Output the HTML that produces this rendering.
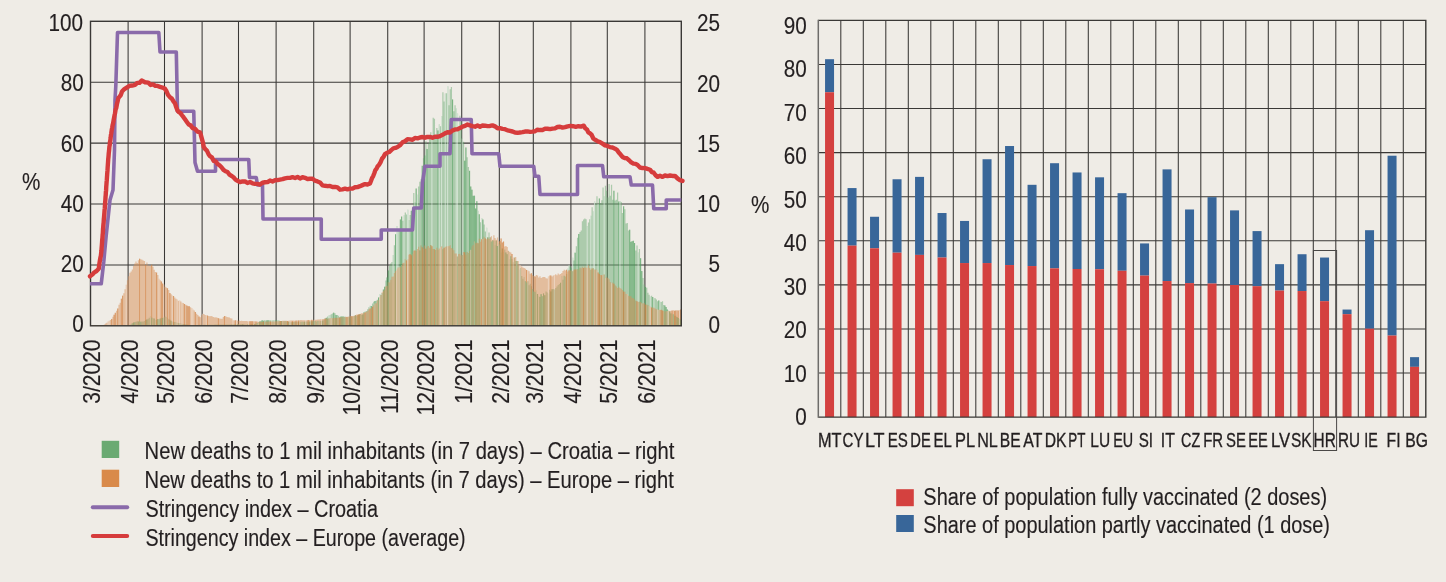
<!DOCTYPE html>
<html><head><meta charset="utf-8"><style>html,body{margin:0;padding:0;background:#efece6;overflow:hidden}svg{display:block;will-change:transform}</style></head>
<body><svg width="1446" height="582" viewBox="0 0 1446 582" font-family="'Liberation Sans', sans-serif">
<rect x="0" y="0" width="1446" height="582" fill="#efece6"/>
<line x1="90.5" y1="82.20" x2="681.3" y2="82.20" stroke="#3a3836" stroke-width="1.05"/>
<line x1="90.5" y1="143.10" x2="681.3" y2="143.10" stroke="#3a3836" stroke-width="1.05"/>
<line x1="90.5" y1="204.00" x2="681.3" y2="204.00" stroke="#3a3836" stroke-width="1.05"/>
<line x1="90.5" y1="264.90" x2="681.3" y2="264.90" stroke="#3a3836" stroke-width="1.05"/>
<line x1="128.11" y1="21.3" x2="128.11" y2="325.8" stroke="#3a3836" stroke-width="1.05"/>
<line x1="164.50" y1="21.3" x2="164.50" y2="325.8" stroke="#3a3836" stroke-width="1.05"/>
<line x1="202.11" y1="21.3" x2="202.11" y2="325.8" stroke="#3a3836" stroke-width="1.05"/>
<line x1="238.50" y1="21.3" x2="238.50" y2="325.8" stroke="#3a3836" stroke-width="1.05"/>
<line x1="276.11" y1="21.3" x2="276.11" y2="325.8" stroke="#3a3836" stroke-width="1.05"/>
<line x1="313.72" y1="21.3" x2="313.72" y2="325.8" stroke="#3a3836" stroke-width="1.05"/>
<line x1="350.11" y1="21.3" x2="350.11" y2="325.8" stroke="#3a3836" stroke-width="1.05"/>
<line x1="387.72" y1="21.3" x2="387.72" y2="325.8" stroke="#3a3836" stroke-width="1.05"/>
<line x1="424.11" y1="21.3" x2="424.11" y2="325.8" stroke="#3a3836" stroke-width="1.05"/>
<line x1="461.72" y1="21.3" x2="461.72" y2="325.8" stroke="#3a3836" stroke-width="1.05"/>
<line x1="499.33" y1="21.3" x2="499.33" y2="325.8" stroke="#3a3836" stroke-width="1.05"/>
<line x1="533.30" y1="21.3" x2="533.30" y2="325.8" stroke="#3a3836" stroke-width="1.05"/>
<line x1="570.90" y1="21.3" x2="570.90" y2="325.8" stroke="#3a3836" stroke-width="1.05"/>
<line x1="607.30" y1="21.3" x2="607.30" y2="325.8" stroke="#3a3836" stroke-width="1.05"/>
<line x1="644.91" y1="21.3" x2="644.91" y2="325.8" stroke="#3a3836" stroke-width="1.05"/>
<polygon points="90.50,325.80 90.50,325.00 91.71,325.00 91.71,325.00 92.93,325.00 92.93,325.00 94.14,325.00 94.14,325.00 95.35,325.00 95.35,325.00 96.57,325.00 96.57,325.00 97.78,325.00 97.78,325.00 98.99,325.00 98.99,325.00 100.21,325.00 100.21,325.00 101.42,325.00 101.42,325.00 102.63,325.00 102.63,325.00 103.84,325.00 103.84,325.00 105.06,325.00 105.06,325.00 106.27,325.00 106.27,325.00 107.48,325.00 107.48,325.00 108.70,325.00 108.70,325.00 109.91,325.00 109.91,325.00 111.12,325.00 111.12,325.00 112.34,325.00 112.34,325.00 113.55,325.00 113.55,325.00 114.76,325.00 114.76,325.00 115.98,325.00 115.98,325.00 117.19,325.00 117.19,325.00 118.40,325.00 118.40,325.00 119.62,325.00 119.62,325.00 120.83,325.00 120.83,325.00 122.04,325.00 122.04,325.00 123.25,325.00 123.25,325.00 124.47,325.00 124.47,325.00 125.68,325.00 125.68,325.00 126.89,325.00 126.89,325.00 128.11,325.00 128.11,325.00 129.32,325.00 129.32,325.00 130.53,325.00 130.53,324.08 131.75,324.08 131.75,323.24 132.96,323.24 132.96,322.51 134.17,322.51 134.17,322.29 135.39,322.29 135.39,321.81 136.60,321.81 136.60,321.31 137.81,321.31 137.81,321.48 139.03,321.48 139.03,321.50 140.24,321.50 140.24,321.72 141.45,321.72 141.45,321.62 142.67,321.62 142.67,321.50 143.88,321.50 143.88,321.04 145.09,321.04 145.09,320.04 146.30,320.04 146.30,319.44 147.52,319.44 147.52,318.84 148.73,318.84 148.73,317.77 149.94,317.77 149.94,316.28 151.16,316.28 151.16,317.75 152.37,317.75 152.37,318.23 153.58,318.23 153.58,318.56 154.80,318.56 154.80,319.99 156.01,319.99 156.01,319.72 157.22,319.72 157.22,319.02 158.44,319.02 158.44,319.18 159.65,319.18 159.65,318.49 160.86,318.49 160.86,317.74 162.08,317.74 162.08,318.06 163.29,318.06 163.29,317.26 164.50,317.26 164.50,316.60 165.71,316.60 165.71,317.03 166.93,317.03 166.93,318.08 168.14,318.08 168.14,319.13 169.35,319.13 169.35,319.74 170.57,319.74 170.57,320.66 171.78,320.66 171.78,321.43 172.99,321.43 172.99,321.83 174.21,321.83 174.21,321.91 175.42,321.91 175.42,322.25 176.63,322.25 176.63,322.73 177.85,322.73 177.85,322.93 179.06,322.93 179.06,323.32 180.27,323.32 180.27,323.54 181.49,323.54 181.49,323.76 182.70,323.76 182.70,323.92 183.91,323.92 183.91,324.12 185.13,324.12 185.13,324.31 186.34,324.31 186.34,324.51 187.55,324.51 187.55,324.70 188.76,324.70 188.76,324.90 189.98,324.90 189.98,324.99 191.19,324.99 191.19,324.97 192.40,324.97 192.40,324.95 193.62,324.95 193.62,324.94 194.83,324.94 194.83,324.92 196.04,324.92 196.04,324.90 197.26,324.90 197.26,324.88 198.47,324.88 198.47,324.86 199.68,324.86 199.68,324.84 200.90,324.84 200.90,324.82 202.11,324.82 202.11,324.80 203.32,324.80 203.32,324.79 204.54,324.79 204.54,324.77 205.75,324.77 205.75,324.75 206.96,324.75 206.96,324.73 208.17,324.73 208.17,324.71 209.39,324.71 209.39,324.69 210.60,324.69 210.60,324.67 211.81,324.67 211.81,324.66 213.03,324.66 213.03,324.64 214.24,324.64 214.24,324.62 215.45,324.62 215.45,324.60 216.67,324.60 216.67,324.58 217.88,324.58 217.88,324.56 219.09,324.56 219.09,324.54 220.31,324.54 220.31,324.52 221.52,324.52 221.52,324.51 222.73,324.51 222.73,324.49 223.95,324.49 223.95,324.47 225.16,324.47 225.16,324.45 226.37,324.45 226.37,324.43 227.59,324.43 227.59,324.41 228.80,324.41 228.80,324.39 230.01,324.39 230.01,324.38 231.22,324.38 231.22,324.36 232.44,324.36 232.44,324.34 233.65,324.34 233.65,324.32 234.86,324.32 234.86,324.30 236.08,324.30 236.08,324.28 237.29,324.28 237.29,324.26 238.50,324.26 238.50,324.24 239.72,324.24 239.72,324.23 240.93,324.23 240.93,324.21 242.14,324.21 242.14,324.19 243.36,324.19 243.36,324.17 244.57,324.17 244.57,324.15 245.78,324.15 245.78,324.13 247.00,324.13 247.00,324.11 248.21,324.11 248.21,324.10 249.42,324.10 249.42,324.08 250.63,324.08 250.63,324.06 251.85,324.06 251.85,324.04 253.06,324.04 253.06,324.02 254.27,324.02 254.27,324.00 255.49,324.00 255.49,323.41 256.70,323.41 256.70,322.89 257.91,322.89 257.91,322.26 259.13,322.26 259.13,321.52 260.34,321.52 260.34,321.08 261.55,321.08 261.55,320.24 262.77,320.24 262.77,320.65 263.98,320.65 263.98,320.24 265.19,320.24 265.19,320.40 266.41,320.40 266.41,320.36 267.62,320.36 267.62,320.17 268.83,320.17 268.83,320.20 270.04,320.20 270.04,320.22 271.26,320.22 271.26,320.46 272.47,320.46 272.47,320.35 273.68,320.35 273.68,319.88 274.90,319.88 274.90,320.05 276.11,320.05 276.11,320.10 277.32,320.10 277.32,320.10 278.54,320.10 278.54,320.44 279.75,320.44 279.75,320.99 280.96,320.99 280.96,320.99 282.18,320.99 282.18,320.98 283.39,320.98 283.39,321.35 284.60,321.35 284.60,321.11 285.82,321.11 285.82,321.29 287.03,321.29 287.03,321.51 288.24,321.51 288.24,321.86 289.46,321.86 289.46,321.84 290.67,321.84 290.67,322.14 291.88,322.14 291.88,322.03 293.09,322.03 293.09,321.92 294.31,321.92 294.31,321.76 295.52,321.76 295.52,321.85 296.73,321.85 296.73,321.99 297.95,321.99 297.95,321.86 299.16,321.86 299.16,321.84 300.37,321.84 300.37,321.82 301.59,321.82 301.59,321.86 302.80,321.86 302.80,321.71 304.01,321.71 304.01,321.66 305.23,321.66 305.23,321.47 306.44,321.47 306.44,321.42 307.65,321.42 307.65,321.53 308.87,321.53 308.87,321.53 310.08,321.53 310.08,321.33 311.29,321.33 311.29,321.22 312.50,321.22 312.50,321.28 313.72,321.28 313.72,321.17 314.93,321.17 314.93,321.04 316.14,321.04 316.14,321.48 317.36,321.48 317.36,320.97 318.57,320.97 318.57,321.26 319.78,321.26 319.78,321.10 321.00,321.10 321.00,320.87 322.21,320.87 322.21,320.58 323.42,320.58 323.42,319.87 324.64,319.87 324.64,318.37 325.85,318.37 325.85,317.84 327.06,317.84 327.06,316.46 328.28,316.46 328.28,315.17 329.49,315.17 329.49,315.05 330.70,315.05 330.70,314.21 331.92,314.21 331.92,313.41 333.13,313.41 333.13,312.64 334.34,312.64 334.34,313.17 335.55,313.17 335.55,314.94 336.77,314.94 336.77,315.07 337.98,315.07 337.98,315.72 339.19,315.72 339.19,316.89 340.41,316.89 340.41,316.50 341.62,316.50 341.62,316.49 342.83,316.49 342.83,316.31 344.05,316.31 344.05,316.25 345.26,316.25 345.26,317.20 346.47,317.20 346.47,317.14 347.69,317.14 347.69,316.74 348.90,316.74 348.90,317.36 350.11,317.36 350.11,317.13 351.33,317.13 351.33,316.47 352.54,316.47 352.54,316.65 353.75,316.65 353.75,315.66 354.96,315.66 354.96,315.28 356.18,315.28 356.18,316.01 357.39,316.01 357.39,315.11 358.60,315.11 358.60,314.49 359.82,314.49 359.82,313.96 361.03,313.96 361.03,314.63 362.24,314.63 362.24,314.50 363.46,314.50 363.46,312.29 364.67,312.29 364.67,310.90 365.88,310.90 365.88,310.88 367.10,310.88 367.10,309.16 368.31,309.16 368.31,307.29 369.52,307.29 369.52,305.68 370.74,305.68 370.74,306.02 371.95,306.02 371.95,303.49 373.16,303.49 373.16,301.79 374.38,301.79 374.38,301.04 375.59,301.04 375.59,300.74 376.80,300.74 376.80,299.74 378.01,299.74 378.01,297.46 379.23,297.46 379.23,294.07 380.44,294.07 380.44,294.95 381.65,294.95 381.65,293.10 382.87,293.10 382.87,289.53 384.08,289.53 384.08,286.72 385.29,286.72 385.29,280.49 386.51,280.49 386.51,277.43 387.72,277.43 387.72,270.50 388.93,270.50 388.93,265.45 390.15,265.45 390.15,263.56 391.36,263.56 391.36,262.11 392.57,262.11 392.57,254.89 393.79,254.89 393.79,245.28 395.00,245.28 395.00,234.27 396.21,234.27 396.21,226.02 397.42,226.02 397.42,229.86 398.64,229.86 398.64,231.08 399.85,231.08 399.85,219.50 401.06,219.50 401.06,216.62 402.28,216.62 402.28,220.85 403.49,220.85 403.49,215.22 404.70,215.22 404.70,212.42 405.92,212.42 405.92,214.53 407.13,214.53 407.13,209.80 408.34,209.80 408.34,219.96 409.56,219.96 409.56,215.05 410.77,215.05 410.77,210.84 411.98,210.84 411.98,209.01 413.20,209.01 413.20,192.95 414.41,192.95 414.41,202.33 415.62,202.33 415.62,188.53 416.84,188.53 416.84,194.78 418.05,194.78 418.05,186.40 419.26,186.40 419.26,181.83 420.47,181.83 420.47,179.34 421.69,179.34 421.69,165.83 422.90,165.83 422.90,158.26 424.11,158.26 424.11,155.50 425.33,155.50 425.33,141.16 426.54,141.16 426.54,148.93 427.75,148.93 427.75,143.54 428.97,143.54 428.97,135.10 430.18,135.10 430.18,132.28 431.39,132.28 431.39,135.45 432.61,135.45 432.61,117.63 433.82,117.63 433.82,118.84 435.03,118.84 435.03,135.21 436.25,135.21 436.25,128.01 437.46,128.01 437.46,130.43 438.67,130.43 438.67,124.23 439.88,124.23 439.88,126.24 441.10,126.24 441.10,116.32 442.31,116.32 442.31,92.13 443.52,92.13 443.52,101.58 444.74,101.58 444.74,93.53 445.95,93.53 445.95,93.25 447.16,93.25 447.16,86.24 448.38,86.24 448.38,105.18 449.59,105.18 449.59,89.26 450.80,89.26 450.80,86.96 452.02,86.96 452.02,99.41 453.23,99.41 453.23,111.37 454.44,111.37 454.44,105.17 455.66,105.17 455.66,108.13 456.87,108.13 456.87,113.51 458.08,113.51 458.08,130.88 459.30,130.88 459.30,115.82 460.51,115.82 460.51,121.37 461.72,121.37 461.72,138.52 462.93,138.52 462.93,141.70 464.15,141.70 464.15,160.68 465.36,160.68 465.36,147.46 466.57,147.46 466.57,157.19 467.79,157.19 467.79,166.91 469.00,166.91 469.00,170.83 470.21,170.83 470.21,186.52 471.43,186.52 471.43,189.66 472.64,189.66 472.64,195.86 473.85,195.86 473.85,195.64 475.07,195.64 475.07,208.50 476.28,208.50 476.28,201.13 477.49,201.13 477.49,210.70 478.71,210.70 478.71,214.32 479.92,214.32 479.92,222.13 481.13,222.13 481.13,218.03 482.34,218.03 482.34,219.54 483.56,219.54 483.56,224.39 484.77,224.39 484.77,231.46 485.98,231.46 485.98,227.71 487.20,227.71 487.20,237.39 488.41,237.39 488.41,232.44 489.62,232.44 489.62,237.37 490.84,237.37 490.84,241.57 492.05,241.57 492.05,240.41 493.26,240.41 493.26,240.41 494.48,240.41 494.48,245.28 495.69,245.28 495.69,240.64 496.90,240.64 496.90,245.97 498.12,245.97 498.12,242.63 499.33,242.63 499.33,244.39 500.54,244.39 500.54,252.41 501.76,252.41 501.76,248.53 502.97,248.53 502.97,252.56 504.18,252.56 504.18,249.58 505.39,249.58 505.39,252.43 506.61,252.43 506.61,254.14 507.82,254.14 507.82,251.37 509.03,251.37 509.03,259.44 510.25,259.44 510.25,256.21 511.46,256.21 511.46,259.06 512.67,259.06 512.67,262.37 513.89,262.37 513.89,257.58 515.10,257.58 515.10,260.94 516.31,260.94 516.31,260.91 517.53,260.91 517.53,265.56 518.74,265.56 518.74,269.81 519.95,269.81 519.95,267.93 521.17,267.93 521.17,275.95 522.38,275.95 522.38,278.65 523.59,278.65 523.59,277.07 524.80,277.07 524.80,281.15 526.02,281.15 526.02,282.49 527.23,282.49 527.23,281.14 528.44,281.14 528.44,285.25 529.66,285.25 529.66,283.83 530.87,283.83 530.87,286.35 532.08,286.35 532.08,289.10 533.30,289.10 533.30,291.56 534.51,291.56 534.51,292.03 535.72,292.03 535.72,290.39 536.94,290.39 536.94,293.95 538.15,293.95 538.15,296.16 539.36,296.16 539.36,296.93 540.58,296.93 540.58,294.21 541.79,294.21 541.79,296.29 543.00,296.29 543.00,293.40 544.21,293.40 544.21,295.24 545.43,295.24 545.43,291.43 546.64,291.43 546.64,292.51 547.85,292.51 547.85,293.87 549.07,293.87 549.07,289.63 550.28,289.63 550.28,291.40 551.49,291.40 551.49,289.21 552.71,289.21 552.71,288.92 553.92,288.92 553.92,289.44 555.13,289.44 555.13,287.99 556.35,287.99 556.35,286.39 557.56,286.39 557.56,284.93 558.77,284.93 558.77,284.11 559.99,284.11 559.99,282.76 561.20,282.76 561.20,276.31 562.41,276.31 562.41,279.75 563.63,279.75 563.63,275.87 564.84,275.87 564.84,276.62 566.05,276.62 566.05,274.07 567.26,274.07 567.26,268.46 568.48,268.46 568.48,265.16 569.69,265.16 569.69,266.39 570.90,266.39 570.90,267.81 572.12,267.81 572.12,257.74 573.33,257.74 573.33,260.38 574.54,260.38 574.54,252.64 575.76,252.64 575.76,246.33 576.97,246.33 576.97,237.78 578.18,237.78 578.18,233.94 579.40,233.94 579.40,232.11 580.61,232.11 580.61,230.46 581.82,230.46 581.82,221.20 583.04,221.20 583.04,219.54 584.25,219.54 584.25,218.45 585.46,218.45 585.46,219.32 586.67,219.32 586.67,226.07 587.89,226.07 587.89,222.56 589.10,222.56 589.10,219.17 590.31,219.17 590.31,215.69 591.53,215.69 591.53,207.26 592.74,207.26 592.74,211.58 593.95,211.58 593.95,201.52 595.17,201.52 595.17,203.60 596.38,203.60 596.38,196.37 597.59,196.37 597.59,203.92 598.81,203.92 598.81,198.45 600.02,198.45 600.02,203.01 601.23,203.01 601.23,200.16 602.45,200.16 602.45,187.59 603.66,187.59 603.66,196.20 604.87,196.20 604.87,185.86 606.09,185.86 606.09,190.65 607.30,190.65 607.30,197.44 608.51,197.44 608.51,184.00 609.72,184.00 609.72,195.85 610.94,195.85 610.94,184.84 612.15,184.84 612.15,199.76 613.36,199.76 613.36,190.80 614.58,190.80 614.58,200.54 615.79,200.54 615.79,199.75 617.00,199.75 617.00,192.48 618.22,192.48 618.22,201.58 619.43,201.58 619.43,201.08 620.64,201.08 620.64,201.94 621.86,201.94 621.86,212.98 623.07,212.98 623.07,206.36 624.28,206.36 624.28,209.15 625.50,209.15 625.50,223.46 626.71,223.46 626.71,222.92 627.92,222.92 627.92,230.48 629.13,230.48 629.13,229.69 630.35,229.69 630.35,241.87 631.56,241.87 631.56,241.15 632.77,241.15 632.77,240.79 633.99,240.79 633.99,243.02 635.20,243.02 635.20,250.62 636.41,250.62 636.41,245.44 637.63,245.44 637.63,252.52 638.84,252.52 638.84,249.03 640.05,249.03 640.05,258.24 641.27,258.24 641.27,271.05 642.48,271.05 642.48,277.94 643.69,277.94 643.69,284.40 644.91,284.40 644.91,286.91 646.12,286.91 646.12,287.75 647.33,287.75 647.33,292.70 648.55,292.70 648.55,294.66 649.76,294.66 649.76,296.51 650.97,296.51 650.97,295.81 652.18,295.81 652.18,297.03 653.40,297.03 653.40,297.89 654.61,297.89 654.61,298.26 655.82,298.26 655.82,299.59 657.04,299.59 657.04,301.15 658.25,301.15 658.25,300.40 659.46,300.40 659.46,301.71 660.68,301.71 660.68,301.91 661.89,301.91 661.89,301.30 663.10,301.30 663.10,304.95 664.32,304.95 664.32,305.40 665.53,305.40 665.53,307.03 666.74,307.03 666.74,309.41 667.96,309.41 667.96,310.64 669.17,310.64 669.17,311.43 670.38,311.43 670.38,313.40 671.59,313.40 671.59,313.67 672.81,313.67 672.81,314.33 674.02,314.33 674.02,315.76 675.23,315.76 675.23,315.84 676.45,315.84 676.45,317.07 677.66,317.07 677.66,318.01 678.87,318.01 678.87,318.64 680.09,318.64 680.09,319.69 681.30,319.69 681.30,325.80" fill="#6aaa72" fill-opacity="0.5"/>
<g><rect x="130.53" y="324.08" width="1" height="1.72" fill="#ffffff" fill-opacity="0.5"/><rect x="132.96" y="322.51" width="1" height="3.29" fill="#3f9a50" fill-opacity="0.45"/><rect x="137.81" y="321.48" width="1" height="4.32" fill="#3f9a50" fill-opacity="0.45"/><rect x="139.03" y="321.50" width="1" height="4.30" fill="#ffffff" fill-opacity="0.5"/><rect x="146.30" y="319.44" width="1" height="6.36" fill="#3f9a50" fill-opacity="0.45"/><rect x="149.94" y="316.28" width="1" height="9.52" fill="#ffffff" fill-opacity="0.5"/><rect x="152.37" y="318.23" width="1" height="7.57" fill="#ffffff" fill-opacity="0.5"/><rect x="153.58" y="318.56" width="1" height="7.24" fill="#3f9a50" fill-opacity="0.45"/><rect x="154.80" y="319.99" width="1" height="5.81" fill="#ffffff" fill-opacity="0.5"/><rect x="157.22" y="319.02" width="1" height="6.78" fill="#3f9a50" fill-opacity="0.45"/><rect x="159.65" y="318.49" width="1" height="7.31" fill="#3f9a50" fill-opacity="0.45"/><rect x="162.08" y="318.06" width="1" height="7.74" fill="#3f9a50" fill-opacity="0.45"/><rect x="165.71" y="317.03" width="1" height="8.77" fill="#ffffff" fill-opacity="0.5"/><rect x="166.93" y="318.08" width="1" height="7.72" fill="#ffffff" fill-opacity="0.5"/><rect x="170.57" y="320.66" width="1" height="5.14" fill="#3f9a50" fill-opacity="0.45"/><rect x="175.42" y="322.25" width="1" height="3.55" fill="#ffffff" fill-opacity="0.5"/><rect x="179.06" y="323.32" width="1" height="2.48" fill="#3f9a50" fill-opacity="0.45"/><rect x="180.27" y="323.54" width="1" height="2.26" fill="#ffffff" fill-opacity="0.5"/><rect x="237.29" y="324.26" width="1" height="1.54" fill="#3f9a50" fill-opacity="0.45"/><rect x="238.50" y="324.24" width="1" height="1.56" fill="#ffffff" fill-opacity="0.5"/><rect x="242.14" y="324.19" width="1" height="1.61" fill="#3f9a50" fill-opacity="0.45"/><rect x="244.57" y="324.15" width="1" height="1.65" fill="#ffffff" fill-opacity="0.5"/><rect x="245.78" y="324.13" width="1" height="1.67" fill="#ffffff" fill-opacity="0.5"/><rect x="248.21" y="324.10" width="1" height="1.70" fill="#ffffff" fill-opacity="0.5"/><rect x="249.42" y="324.08" width="1" height="1.72" fill="#ffffff" fill-opacity="0.5"/><rect x="253.06" y="324.02" width="1" height="1.78" fill="#ffffff" fill-opacity="0.5"/><rect x="254.27" y="324.00" width="1" height="1.80" fill="#3f9a50" fill-opacity="0.45"/><rect x="256.70" y="322.89" width="1" height="2.91" fill="#ffffff" fill-opacity="0.5"/><rect x="257.91" y="322.26" width="1" height="3.54" fill="#ffffff" fill-opacity="0.5"/><rect x="259.13" y="321.52" width="1" height="4.28" fill="#3f9a50" fill-opacity="0.45"/><rect x="261.55" y="320.24" width="1" height="5.56" fill="#3f9a50" fill-opacity="0.45"/><rect x="262.77" y="320.65" width="1" height="5.15" fill="#3f9a50" fill-opacity="0.45"/><rect x="266.41" y="320.36" width="1" height="5.44" fill="#3f9a50" fill-opacity="0.45"/><rect x="267.62" y="320.17" width="1" height="5.63" fill="#3f9a50" fill-opacity="0.45"/><rect x="271.26" y="320.46" width="1" height="5.34" fill="#ffffff" fill-opacity="0.5"/><rect x="273.68" y="319.88" width="1" height="5.92" fill="#ffffff" fill-opacity="0.5"/><rect x="277.32" y="320.10" width="1" height="5.70" fill="#ffffff" fill-opacity="0.5"/><rect x="280.96" y="320.99" width="1" height="4.81" fill="#3f9a50" fill-opacity="0.45"/><rect x="282.18" y="320.98" width="1" height="4.82" fill="#ffffff" fill-opacity="0.5"/><rect x="288.24" y="321.86" width="1" height="3.94" fill="#3f9a50" fill-opacity="0.45"/><rect x="289.46" y="321.84" width="1" height="3.96" fill="#ffffff" fill-opacity="0.5"/><rect x="291.88" y="322.03" width="1" height="3.77" fill="#3f9a50" fill-opacity="0.45"/><rect x="296.73" y="321.99" width="1" height="3.81" fill="#ffffff" fill-opacity="0.5"/><rect x="297.95" y="321.86" width="1" height="3.94" fill="#3f9a50" fill-opacity="0.45"/><rect x="299.16" y="321.84" width="1" height="3.96" fill="#ffffff" fill-opacity="0.5"/><rect x="301.59" y="321.86" width="1" height="3.94" fill="#ffffff" fill-opacity="0.5"/><rect x="304.01" y="321.66" width="1" height="4.14" fill="#3f9a50" fill-opacity="0.45"/><rect x="308.87" y="321.53" width="1" height="4.27" fill="#3f9a50" fill-opacity="0.45"/><rect x="310.08" y="321.33" width="1" height="4.47" fill="#3f9a50" fill-opacity="0.45"/><rect x="311.29" y="321.22" width="1" height="4.58" fill="#3f9a50" fill-opacity="0.45"/><rect x="312.50" y="321.28" width="1" height="4.52" fill="#3f9a50" fill-opacity="0.45"/><rect x="317.36" y="320.97" width="1" height="4.83" fill="#ffffff" fill-opacity="0.5"/><rect x="318.57" y="321.26" width="1" height="4.54" fill="#ffffff" fill-opacity="0.5"/><rect x="322.21" y="320.58" width="1" height="5.22" fill="#3f9a50" fill-opacity="0.45"/><rect x="325.85" y="317.84" width="1" height="7.96" fill="#3f9a50" fill-opacity="0.45"/><rect x="328.28" y="315.17" width="1" height="10.63" fill="#ffffff" fill-opacity="0.5"/><rect x="329.49" y="315.05" width="1" height="10.75" fill="#ffffff" fill-opacity="0.5"/><rect x="333.13" y="312.64" width="1" height="13.16" fill="#3f9a50" fill-opacity="0.45"/><rect x="335.55" y="314.94" width="1" height="10.86" fill="#3f9a50" fill-opacity="0.45"/><rect x="340.41" y="316.50" width="1" height="9.30" fill="#3f9a50" fill-opacity="0.45"/><rect x="341.62" y="316.49" width="1" height="9.31" fill="#3f9a50" fill-opacity="0.45"/><rect x="344.05" y="316.25" width="1" height="9.55" fill="#ffffff" fill-opacity="0.5"/><rect x="346.47" y="317.14" width="1" height="8.66" fill="#ffffff" fill-opacity="0.5"/><rect x="347.69" y="316.74" width="1" height="9.06" fill="#ffffff" fill-opacity="0.5"/><rect x="348.90" y="317.36" width="1" height="8.44" fill="#3f9a50" fill-opacity="0.45"/><rect x="352.54" y="316.65" width="1" height="9.15" fill="#ffffff" fill-opacity="0.5"/><rect x="354.96" y="315.28" width="1" height="10.52" fill="#3f9a50" fill-opacity="0.45"/><rect x="358.60" y="314.49" width="1" height="11.31" fill="#3f9a50" fill-opacity="0.45"/><rect x="362.24" y="314.50" width="1" height="11.30" fill="#3f9a50" fill-opacity="0.45"/><rect x="363.46" y="312.29" width="1" height="13.51" fill="#3f9a50" fill-opacity="0.45"/><rect x="364.67" y="310.90" width="1" height="14.90" fill="#ffffff" fill-opacity="0.5"/><rect x="369.52" y="305.68" width="1" height="20.12" fill="#ffffff" fill-opacity="0.5"/><rect x="370.74" y="306.02" width="1" height="19.78" fill="#3f9a50" fill-opacity="0.45"/><rect x="374.38" y="301.04" width="1" height="24.76" fill="#3f9a50" fill-opacity="0.45"/><rect x="378.01" y="297.46" width="1" height="28.34" fill="#3f9a50" fill-opacity="0.45"/><rect x="379.23" y="294.07" width="1" height="31.73" fill="#ffffff" fill-opacity="0.5"/><rect x="381.65" y="293.10" width="1" height="32.70" fill="#3f9a50" fill-opacity="0.45"/><rect x="382.87" y="289.53" width="1" height="36.27" fill="#3f9a50" fill-opacity="0.45"/><rect x="384.08" y="286.72" width="1" height="39.08" fill="#3f9a50" fill-opacity="0.45"/><rect x="386.51" y="277.43" width="1" height="48.37" fill="#3f9a50" fill-opacity="0.45"/><rect x="387.72" y="270.50" width="1" height="55.30" fill="#3f9a50" fill-opacity="0.45"/><rect x="392.57" y="254.89" width="1" height="70.91" fill="#ffffff" fill-opacity="0.5"/><rect x="395.00" y="234.27" width="1" height="91.53" fill="#3f9a50" fill-opacity="0.45"/><rect x="396.21" y="226.02" width="1" height="99.78" fill="#ffffff" fill-opacity="0.5"/><rect x="397.42" y="229.86" width="1" height="95.94" fill="#ffffff" fill-opacity="0.5"/><rect x="399.85" y="219.50" width="1" height="106.30" fill="#3f9a50" fill-opacity="0.45"/><rect x="401.06" y="216.62" width="1" height="109.18" fill="#3f9a50" fill-opacity="0.45"/><rect x="403.49" y="215.22" width="1" height="110.58" fill="#ffffff" fill-opacity="0.5"/><rect x="407.13" y="209.80" width="1" height="116.00" fill="#ffffff" fill-opacity="0.5"/><rect x="408.34" y="219.96" width="1" height="105.84" fill="#ffffff" fill-opacity="0.5"/><rect x="410.77" y="210.84" width="1" height="114.96" fill="#3f9a50" fill-opacity="0.45"/><rect x="411.98" y="209.01" width="1" height="116.79" fill="#3f9a50" fill-opacity="0.45"/><rect x="414.41" y="202.33" width="1" height="123.47" fill="#ffffff" fill-opacity="0.5"/><rect x="415.62" y="188.53" width="1" height="137.27" fill="#3f9a50" fill-opacity="0.45"/><rect x="416.84" y="194.78" width="1" height="131.02" fill="#ffffff" fill-opacity="0.5"/><rect x="421.69" y="165.83" width="1" height="159.97" fill="#3f9a50" fill-opacity="0.45"/><rect x="424.11" y="155.50" width="1" height="170.30" fill="#3f9a50" fill-opacity="0.45"/><rect x="426.54" y="148.93" width="1" height="176.87" fill="#3f9a50" fill-opacity="0.45"/><rect x="431.39" y="135.45" width="1" height="190.35" fill="#ffffff" fill-opacity="0.5"/><rect x="437.46" y="130.43" width="1" height="195.37" fill="#3f9a50" fill-opacity="0.45"/><rect x="438.67" y="124.23" width="1" height="201.57" fill="#ffffff" fill-opacity="0.5"/><rect x="441.10" y="116.32" width="1" height="209.48" fill="#ffffff" fill-opacity="0.5"/><rect x="444.74" y="93.53" width="1" height="232.27" fill="#ffffff" fill-opacity="0.5"/><rect x="447.16" y="86.24" width="1" height="239.56" fill="#ffffff" fill-opacity="0.5"/><rect x="452.02" y="99.41" width="1" height="226.39" fill="#3f9a50" fill-opacity="0.45"/><rect x="455.66" y="108.13" width="1" height="217.67" fill="#ffffff" fill-opacity="0.5"/><rect x="456.87" y="113.51" width="1" height="212.29" fill="#ffffff" fill-opacity="0.5"/><rect x="461.72" y="138.52" width="1" height="187.28" fill="#ffffff" fill-opacity="0.5"/><rect x="464.15" y="160.68" width="1" height="165.12" fill="#3f9a50" fill-opacity="0.45"/><rect x="465.36" y="147.46" width="1" height="178.34" fill="#3f9a50" fill-opacity="0.45"/><rect x="469.00" y="170.83" width="1" height="154.97" fill="#3f9a50" fill-opacity="0.45"/><rect x="470.21" y="186.52" width="1" height="139.28" fill="#3f9a50" fill-opacity="0.45"/><rect x="471.43" y="189.66" width="1" height="136.14" fill="#3f9a50" fill-opacity="0.45"/><rect x="472.64" y="195.86" width="1" height="129.94" fill="#3f9a50" fill-opacity="0.45"/><rect x="473.85" y="195.64" width="1" height="130.16" fill="#3f9a50" fill-opacity="0.45"/><rect x="475.07" y="208.50" width="1" height="117.30" fill="#3f9a50" fill-opacity="0.45"/><rect x="476.28" y="201.13" width="1" height="124.67" fill="#3f9a50" fill-opacity="0.45"/><rect x="477.49" y="210.70" width="1" height="115.10" fill="#ffffff" fill-opacity="0.5"/><rect x="478.71" y="214.32" width="1" height="111.48" fill="#3f9a50" fill-opacity="0.45"/><rect x="481.13" y="218.03" width="1" height="107.77" fill="#ffffff" fill-opacity="0.5"/><rect x="482.34" y="219.54" width="1" height="106.26" fill="#3f9a50" fill-opacity="0.45"/><rect x="485.98" y="227.71" width="1" height="98.09" fill="#ffffff" fill-opacity="0.5"/><rect x="487.20" y="237.39" width="1" height="88.41" fill="#3f9a50" fill-opacity="0.45"/><rect x="494.48" y="245.28" width="1" height="80.52" fill="#ffffff" fill-opacity="0.5"/><rect x="495.69" y="240.64" width="1" height="85.16" fill="#3f9a50" fill-opacity="0.45"/><rect x="496.90" y="245.97" width="1" height="79.83" fill="#3f9a50" fill-opacity="0.45"/><rect x="500.54" y="252.41" width="1" height="73.39" fill="#ffffff" fill-opacity="0.5"/><rect x="501.76" y="248.53" width="1" height="77.27" fill="#3f9a50" fill-opacity="0.45"/><rect x="502.97" y="252.56" width="1" height="73.24" fill="#ffffff" fill-opacity="0.5"/><rect x="505.39" y="252.43" width="1" height="73.37" fill="#3f9a50" fill-opacity="0.45"/><rect x="506.61" y="254.14" width="1" height="71.66" fill="#3f9a50" fill-opacity="0.45"/><rect x="507.82" y="251.37" width="1" height="74.43" fill="#ffffff" fill-opacity="0.5"/><rect x="509.03" y="259.44" width="1" height="66.36" fill="#ffffff" fill-opacity="0.5"/><rect x="516.31" y="260.91" width="1" height="64.89" fill="#3f9a50" fill-opacity="0.45"/><rect x="517.53" y="265.56" width="1" height="60.24" fill="#3f9a50" fill-opacity="0.45"/><rect x="518.74" y="269.81" width="1" height="55.99" fill="#ffffff" fill-opacity="0.5"/><rect x="519.95" y="267.93" width="1" height="57.87" fill="#3f9a50" fill-opacity="0.45"/><rect x="523.59" y="277.07" width="1" height="48.73" fill="#ffffff" fill-opacity="0.5"/><rect x="527.23" y="281.14" width="1" height="44.66" fill="#3f9a50" fill-opacity="0.45"/><rect x="534.51" y="292.03" width="1" height="33.77" fill="#ffffff" fill-opacity="0.5"/><rect x="535.72" y="290.39" width="1" height="35.41" fill="#ffffff" fill-opacity="0.5"/><rect x="536.94" y="293.95" width="1" height="31.85" fill="#3f9a50" fill-opacity="0.45"/><rect x="538.15" y="296.16" width="1" height="29.64" fill="#ffffff" fill-opacity="0.5"/><rect x="539.36" y="296.93" width="1" height="28.87" fill="#3f9a50" fill-opacity="0.45"/><rect x="540.58" y="294.21" width="1" height="31.59" fill="#3f9a50" fill-opacity="0.45"/><rect x="543.00" y="293.40" width="1" height="32.40" fill="#3f9a50" fill-opacity="0.45"/><rect x="544.21" y="295.24" width="1" height="30.56" fill="#3f9a50" fill-opacity="0.45"/><rect x="547.85" y="293.87" width="1" height="31.93" fill="#ffffff" fill-opacity="0.5"/><rect x="550.28" y="291.40" width="1" height="34.40" fill="#3f9a50" fill-opacity="0.45"/><rect x="551.49" y="289.21" width="1" height="36.59" fill="#3f9a50" fill-opacity="0.45"/><rect x="553.92" y="289.44" width="1" height="36.36" fill="#3f9a50" fill-opacity="0.45"/><rect x="559.99" y="282.76" width="1" height="43.04" fill="#3f9a50" fill-opacity="0.45"/><rect x="561.20" y="276.31" width="1" height="49.49" fill="#ffffff" fill-opacity="0.5"/><rect x="567.26" y="268.46" width="1" height="57.34" fill="#ffffff" fill-opacity="0.5"/><rect x="568.48" y="265.16" width="1" height="60.64" fill="#ffffff" fill-opacity="0.5"/><rect x="569.69" y="266.39" width="1" height="59.41" fill="#3f9a50" fill-opacity="0.45"/><rect x="572.12" y="257.74" width="1" height="68.06" fill="#ffffff" fill-opacity="0.5"/><rect x="574.54" y="252.64" width="1" height="73.16" fill="#3f9a50" fill-opacity="0.45"/><rect x="578.18" y="233.94" width="1" height="91.86" fill="#3f9a50" fill-opacity="0.45"/><rect x="586.67" y="226.07" width="1" height="99.73" fill="#ffffff" fill-opacity="0.5"/><rect x="590.31" y="215.69" width="1" height="110.11" fill="#ffffff" fill-opacity="0.5"/><rect x="592.74" y="211.58" width="1" height="114.22" fill="#ffffff" fill-opacity="0.5"/><rect x="593.95" y="201.52" width="1" height="124.28" fill="#ffffff" fill-opacity="0.5"/><rect x="597.59" y="203.92" width="1" height="121.88" fill="#ffffff" fill-opacity="0.5"/><rect x="598.81" y="198.45" width="1" height="127.35" fill="#3f9a50" fill-opacity="0.45"/><rect x="603.66" y="196.20" width="1" height="129.60" fill="#ffffff" fill-opacity="0.5"/><rect x="613.36" y="190.80" width="1" height="135.00" fill="#3f9a50" fill-opacity="0.45"/><rect x="618.22" y="201.58" width="1" height="124.22" fill="#3f9a50" fill-opacity="0.45"/><rect x="619.43" y="201.08" width="1" height="124.72" fill="#ffffff" fill-opacity="0.5"/><rect x="623.07" y="206.36" width="1" height="119.44" fill="#3f9a50" fill-opacity="0.45"/><rect x="629.13" y="229.69" width="1" height="96.11" fill="#3f9a50" fill-opacity="0.45"/><rect x="630.35" y="241.87" width="1" height="83.93" fill="#3f9a50" fill-opacity="0.45"/><rect x="631.56" y="241.15" width="1" height="84.65" fill="#3f9a50" fill-opacity="0.45"/><rect x="632.77" y="240.79" width="1" height="85.01" fill="#3f9a50" fill-opacity="0.45"/><rect x="633.99" y="243.02" width="1" height="82.78" fill="#3f9a50" fill-opacity="0.45"/><rect x="637.63" y="252.52" width="1" height="73.28" fill="#ffffff" fill-opacity="0.5"/><rect x="640.05" y="258.24" width="1" height="67.56" fill="#3f9a50" fill-opacity="0.45"/><rect x="641.27" y="271.05" width="1" height="54.75" fill="#3f9a50" fill-opacity="0.45"/><rect x="644.91" y="286.91" width="1" height="38.89" fill="#3f9a50" fill-opacity="0.45"/><rect x="649.76" y="296.51" width="1" height="29.29" fill="#ffffff" fill-opacity="0.5"/><rect x="652.18" y="297.03" width="1" height="28.77" fill="#3f9a50" fill-opacity="0.45"/><rect x="653.40" y="297.89" width="1" height="27.91" fill="#ffffff" fill-opacity="0.5"/><rect x="658.25" y="300.40" width="1" height="25.40" fill="#3f9a50" fill-opacity="0.45"/><rect x="659.46" y="301.71" width="1" height="24.09" fill="#ffffff" fill-opacity="0.5"/><rect x="664.32" y="305.40" width="1" height="20.40" fill="#3f9a50" fill-opacity="0.45"/><rect x="665.53" y="307.03" width="1" height="18.77" fill="#3f9a50" fill-opacity="0.45"/><rect x="666.74" y="309.41" width="1" height="16.39" fill="#3f9a50" fill-opacity="0.45"/><rect x="669.17" y="311.43" width="1" height="14.37" fill="#3f9a50" fill-opacity="0.45"/><rect x="670.38" y="313.40" width="1" height="12.40" fill="#3f9a50" fill-opacity="0.45"/><rect x="671.59" y="313.67" width="1" height="12.13" fill="#ffffff" fill-opacity="0.5"/><rect x="676.45" y="317.07" width="1" height="8.73" fill="#3f9a50" fill-opacity="0.45"/><rect x="677.66" y="318.01" width="1" height="7.79" fill="#3f9a50" fill-opacity="0.45"/><rect x="680.09" y="319.69" width="1" height="6.11" fill="#3f9a50" fill-opacity="0.45"/></g>
<polygon points="90.50,325.80 90.50,325.00 91.71,325.00 91.71,325.00 92.93,325.00 92.93,325.00 94.14,325.00 94.14,325.00 95.35,325.00 95.35,325.00 96.57,325.00 96.57,325.00 97.78,325.00 97.78,325.00 98.99,325.00 98.99,325.00 100.21,325.00 100.21,325.00 101.42,325.00 101.42,325.00 102.63,325.00 102.63,325.00 103.84,325.00 103.84,324.43 105.06,324.43 105.06,323.48 106.27,323.48 106.27,322.63 107.48,322.63 107.48,321.56 108.70,321.56 108.70,320.73 109.91,320.73 109.91,319.92 111.12,319.92 111.12,318.93 112.34,318.93 112.34,316.85 113.55,316.85 113.55,314.74 114.76,314.74 114.76,312.83 115.98,312.83 115.98,310.84 117.19,310.84 117.19,308.49 118.40,308.49 118.40,304.75 119.62,304.75 119.62,302.87 120.83,302.87 120.83,298.68 122.04,298.68 122.04,295.64 123.25,295.64 123.25,293.22 124.47,293.22 124.47,289.16 125.68,289.16 125.68,284.82 126.89,284.82 126.89,280.34 128.11,280.34 128.11,276.32 129.32,276.32 129.32,272.67 130.53,272.67 130.53,271.49 131.75,271.49 131.75,269.41 132.96,269.41 132.96,266.02 134.17,266.02 134.17,263.40 135.39,263.40 135.39,261.50 136.60,261.50 136.60,262.99 137.81,262.99 137.81,260.28 139.03,260.28 139.03,258.71 140.24,258.71 140.24,259.35 141.45,259.35 141.45,259.85 142.67,259.85 142.67,260.54 143.88,260.54 143.88,261.00 145.09,261.00 145.09,265.05 146.30,265.05 146.30,262.44 147.52,262.44 147.52,265.44 148.73,265.44 148.73,265.87 149.94,265.87 149.94,265.99 151.16,265.99 151.16,264.84 152.37,264.84 152.37,266.72 153.58,266.72 153.58,269.63 154.80,269.63 154.80,271.91 156.01,271.91 156.01,272.61 157.22,272.61 157.22,275.04 158.44,275.04 158.44,278.76 159.65,278.76 159.65,280.13 160.86,280.13 160.86,281.49 162.08,281.49 162.08,283.59 163.29,283.59 163.29,284.41 164.50,284.41 164.50,286.80 165.71,286.80 165.71,287.49 166.93,287.49 166.93,288.22 168.14,288.22 168.14,289.96 169.35,289.96 169.35,293.03 170.57,293.03 170.57,294.30 171.78,294.30 171.78,295.42 172.99,295.42 172.99,296.03 174.21,296.03 174.21,297.47 175.42,297.47 175.42,298.66 176.63,298.66 176.63,299.48 177.85,299.48 177.85,300.67 179.06,300.67 179.06,300.58 180.27,300.58 180.27,301.55 181.49,301.55 181.49,302.68 182.70,302.68 182.70,303.01 183.91,303.01 183.91,303.98 185.13,303.98 185.13,304.69 186.34,304.69 186.34,305.60 187.55,305.60 187.55,306.18 188.76,306.18 188.76,306.33 189.98,306.33 189.98,307.29 191.19,307.29 191.19,307.98 192.40,307.98 192.40,309.42 193.62,309.42 193.62,310.45 194.83,310.45 194.83,312.02 196.04,312.02 196.04,313.68 197.26,313.68 197.26,314.90 198.47,314.90 198.47,316.53 199.68,316.53 199.68,317.16 200.90,317.16 200.90,315.27 202.11,315.27 202.11,313.77 203.32,313.77 203.32,314.12 204.54,314.12 204.54,314.89 205.75,314.89 205.75,315.17 206.96,315.17 206.96,315.60 208.17,315.60 208.17,315.89 209.39,315.89 209.39,316.23 210.60,316.23 210.60,316.06 211.81,316.06 211.81,316.42 213.03,316.42 213.03,317.11 214.24,317.11 214.24,317.38 215.45,317.38 215.45,317.32 216.67,317.32 216.67,317.81 217.88,317.81 217.88,318.20 219.09,318.20 219.09,318.45 220.31,318.45 220.31,318.83 221.52,318.83 221.52,318.79 222.73,318.79 222.73,317.06 223.95,317.06 223.95,316.10 225.16,316.10 225.16,316.32 226.37,316.32 226.37,317.08 227.59,317.08 227.59,317.21 228.80,317.21 228.80,317.40 230.01,317.40 230.01,318.19 231.22,318.19 231.22,318.45 232.44,318.45 232.44,320.13 233.65,320.13 233.65,320.50 234.86,320.50 234.86,320.36 236.08,320.36 236.08,320.57 237.29,320.57 237.29,320.63 238.50,320.63 238.50,320.56 239.72,320.56 239.72,320.89 240.93,320.89 240.93,320.69 242.14,320.69 242.14,320.97 243.36,320.97 243.36,320.96 244.57,320.96 244.57,320.99 245.78,320.99 245.78,321.05 247.00,321.05 247.00,321.23 248.21,321.23 248.21,321.21 249.42,321.21 249.42,321.26 250.63,321.26 250.63,321.15 251.85,321.15 251.85,321.22 253.06,321.22 253.06,321.37 254.27,321.37 254.27,321.34 255.49,321.34 255.49,321.42 256.70,321.42 256.70,321.60 257.91,321.60 257.91,321.73 259.13,321.73 259.13,321.66 260.34,321.66 260.34,321.79 261.55,321.79 261.55,321.91 262.77,321.91 262.77,321.63 263.98,321.63 263.98,321.58 265.19,321.58 265.19,321.64 266.41,321.64 266.41,321.57 267.62,321.57 267.62,321.51 268.83,321.51 268.83,321.39 270.04,321.39 270.04,321.46 271.26,321.46 271.26,321.39 272.47,321.39 272.47,321.43 273.68,321.43 273.68,321.38 274.90,321.38 274.90,321.26 276.11,321.26 276.11,321.29 277.32,321.29 277.32,321.30 278.54,321.30 278.54,321.16 279.75,321.16 279.75,321.00 280.96,321.00 280.96,321.09 282.18,321.09 282.18,320.87 283.39,320.87 283.39,320.87 284.60,320.87 284.60,320.83 285.82,320.83 285.82,320.71 287.03,320.71 287.03,320.91 288.24,320.91 288.24,320.83 289.46,320.83 289.46,320.56 290.67,320.56 290.67,320.51 291.88,320.51 291.88,320.72 293.09,320.72 293.09,320.45 294.31,320.45 294.31,320.65 295.52,320.65 295.52,320.56 296.73,320.56 296.73,320.52 297.95,320.52 297.95,320.41 299.16,320.41 299.16,320.33 300.37,320.33 300.37,320.11 301.59,320.11 301.59,320.22 302.80,320.22 302.80,320.28 304.01,320.28 304.01,320.18 305.23,320.18 305.23,320.23 306.44,320.23 306.44,320.17 307.65,320.17 307.65,319.98 308.87,319.98 308.87,319.91 310.08,319.91 310.08,319.95 311.29,319.95 311.29,319.86 312.50,319.86 312.50,319.91 313.72,319.91 313.72,319.66 314.93,319.66 314.93,319.68 316.14,319.68 316.14,319.66 317.36,319.66 317.36,319.43 318.57,319.43 318.57,319.44 319.78,319.44 319.78,319.31 321.00,319.31 321.00,319.27 322.21,319.27 322.21,318.90 323.42,318.90 323.42,319.01 324.64,319.01 324.64,318.62 325.85,318.62 325.85,318.75 327.06,318.75 327.06,318.75 328.28,318.75 328.28,318.41 329.49,318.41 329.49,318.29 330.70,318.29 330.70,318.12 331.92,318.12 331.92,318.36 333.13,318.36 333.13,317.95 334.34,317.95 334.34,317.82 335.55,317.82 335.55,317.97 336.77,317.97 336.77,317.80 337.98,317.80 337.98,317.61 339.19,317.61 339.19,317.66 340.41,317.66 340.41,317.21 341.62,317.21 341.62,317.16 342.83,317.16 342.83,316.94 344.05,316.94 344.05,317.01 345.26,317.01 345.26,316.84 346.47,316.84 346.47,316.88 347.69,316.88 347.69,316.68 348.90,316.68 348.90,316.32 350.11,316.32 350.11,316.05 351.33,316.05 351.33,316.21 352.54,316.21 352.54,315.97 353.75,315.97 353.75,315.66 354.96,315.66 354.96,315.12 356.18,315.12 356.18,314.57 357.39,314.57 357.39,314.64 358.60,314.64 358.60,314.15 359.82,314.15 359.82,313.76 361.03,313.76 361.03,313.16 362.24,313.16 362.24,313.30 363.46,313.30 363.46,313.06 364.67,313.06 364.67,312.31 365.88,312.31 365.88,311.83 367.10,311.83 367.10,310.93 368.31,310.93 368.31,309.51 369.52,309.51 369.52,308.62 370.74,308.62 370.74,308.29 371.95,308.29 371.95,306.82 373.16,306.82 373.16,305.15 374.38,305.15 374.38,303.45 375.59,303.45 375.59,303.17 376.80,303.17 376.80,300.49 378.01,300.49 378.01,300.04 379.23,300.04 379.23,296.90 380.44,296.90 380.44,294.93 381.65,294.93 381.65,292.12 382.87,292.12 382.87,290.64 384.08,290.64 384.08,289.86 385.29,289.86 385.29,286.58 386.51,286.58 386.51,285.65 387.72,285.65 387.72,282.27 388.93,282.27 388.93,282.44 390.15,282.44 390.15,279.75 391.36,279.75 391.36,276.81 392.57,276.81 392.57,276.44 393.79,276.44 393.79,273.01 395.00,273.01 395.00,271.10 396.21,271.10 396.21,269.45 397.42,269.45 397.42,267.43 398.64,267.43 398.64,267.50 399.85,267.50 399.85,266.97 401.06,266.97 401.06,265.05 402.28,265.05 402.28,263.06 403.49,263.06 403.49,262.86 404.70,262.86 404.70,258.89 405.92,258.89 405.92,260.39 407.13,260.39 407.13,259.35 408.34,259.35 408.34,254.65 409.56,254.65 409.56,254.06 410.77,254.06 410.77,255.32 411.98,255.32 411.98,253.86 413.20,253.86 413.20,250.64 414.41,250.64 414.41,250.45 415.62,250.45 415.62,250.96 416.84,250.96 416.84,249.04 418.05,249.04 418.05,246.81 419.26,246.81 419.26,250.48 420.47,250.48 420.47,245.55 421.69,245.55 421.69,247.24 422.90,247.24 422.90,248.75 424.11,248.75 424.11,245.52 425.33,245.52 425.33,248.65 426.54,248.65 426.54,246.77 427.75,246.77 427.75,246.07 428.97,246.07 428.97,247.86 430.18,247.86 430.18,245.08 431.39,245.08 431.39,246.22 432.61,246.22 432.61,248.98 433.82,248.98 433.82,249.26 435.03,249.26 435.03,249.93 436.25,249.93 436.25,247.79 437.46,247.79 437.46,249.82 438.67,249.82 438.67,248.41 439.88,248.41 439.88,247.06 441.10,247.06 441.10,246.24 442.31,246.24 442.31,249.29 443.52,249.29 443.52,247.75 444.74,247.75 444.74,246.83 445.95,246.83 445.95,246.47 447.16,246.47 447.16,246.00 448.38,246.00 448.38,246.28 449.59,246.28 449.59,245.36 450.80,245.36 450.80,247.98 452.02,247.98 452.02,248.45 453.23,248.45 453.23,250.34 454.44,250.34 454.44,253.51 455.66,253.51 455.66,253.52 456.87,253.52 456.87,256.62 458.08,256.62 458.08,253.90 459.30,253.90 459.30,253.68 460.51,253.68 460.51,255.60 461.72,255.60 461.72,254.95 462.93,254.95 462.93,252.00 464.15,252.00 464.15,252.36 465.36,252.36 465.36,254.65 466.57,254.65 466.57,251.93 467.79,251.93 467.79,252.96 469.00,252.96 469.00,251.25 470.21,251.25 470.21,249.75 471.43,249.75 471.43,246.47 472.64,246.47 472.64,245.05 473.85,245.05 473.85,241.54 475.07,241.54 475.07,243.28 476.28,243.28 476.28,242.47 477.49,242.47 477.49,243.35 478.71,243.35 478.71,238.68 479.92,238.68 479.92,241.79 481.13,241.79 481.13,239.20 482.34,239.20 482.34,238.87 483.56,238.87 483.56,236.73 484.77,236.73 484.77,238.46 485.98,238.46 485.98,239.34 487.20,239.34 487.20,237.64 488.41,237.64 488.41,239.01 489.62,239.01 489.62,237.41 490.84,237.41 490.84,236.13 492.05,236.13 492.05,239.66 493.26,239.66 493.26,235.21 494.48,235.21 494.48,238.09 495.69,238.09 495.69,239.81 496.90,239.81 496.90,237.52 498.12,237.52 498.12,241.61 499.33,241.61 499.33,241.14 500.54,241.14 500.54,238.48 501.76,238.48 501.76,242.51 502.97,242.51 502.97,241.57 504.18,241.57 504.18,246.44 505.39,246.44 505.39,245.91 506.61,245.91 506.61,246.99 507.82,246.99 507.82,250.73 509.03,250.73 509.03,251.84 510.25,251.84 510.25,252.51 511.46,252.51 511.46,254.02 512.67,254.02 512.67,257.42 513.89,257.42 513.89,257.86 515.10,257.86 515.10,257.01 516.31,257.01 516.31,261.22 517.53,261.22 517.53,260.95 518.74,260.95 518.74,264.67 519.95,264.67 519.95,265.21 521.17,265.21 521.17,266.53 522.38,266.53 522.38,267.53 523.59,267.53 523.59,268.03 524.80,268.03 524.80,268.69 526.02,268.69 526.02,269.93 527.23,269.93 527.23,270.50 528.44,270.50 528.44,271.18 529.66,271.18 529.66,273.87 530.87,273.87 530.87,273.22 532.08,273.22 532.08,274.98 533.30,274.98 533.30,276.01 534.51,276.01 534.51,276.51 535.72,276.51 535.72,274.97 536.94,274.97 536.94,275.60 538.15,275.60 538.15,277.53 539.36,277.53 539.36,276.24 540.58,276.24 540.58,278.08 541.79,278.08 541.79,277.30 543.00,277.30 543.00,277.01 544.21,277.01 544.21,277.03 545.43,277.03 545.43,278.29 546.64,278.29 546.64,278.38 547.85,278.38 547.85,276.58 549.07,276.58 549.07,275.62 550.28,275.62 550.28,275.44 551.49,275.44 551.49,276.50 552.71,276.50 552.71,275.61 553.92,275.61 553.92,274.94 555.13,274.94 555.13,274.22 556.35,274.22 556.35,275.13 557.56,275.13 557.56,273.45 558.77,273.45 558.77,274.44 559.99,274.44 559.99,274.03 561.20,274.03 561.20,273.08 562.41,273.08 562.41,270.94 563.63,270.94 563.63,269.69 564.84,269.69 564.84,270.58 566.05,270.58 566.05,269.78 567.26,269.78 567.26,271.59 568.48,271.59 568.48,270.31 569.69,270.31 569.69,270.51 570.90,270.51 570.90,270.47 572.12,270.47 572.12,271.23 573.33,271.23 573.33,269.73 574.54,269.73 574.54,269.52 575.76,269.52 575.76,269.59 576.97,269.59 576.97,269.16 578.18,269.16 578.18,269.66 579.40,269.66 579.40,267.86 580.61,267.86 580.61,268.36 581.82,268.36 581.82,266.83 583.04,266.83 583.04,268.01 584.25,268.01 584.25,266.54 585.46,266.54 585.46,267.86 586.67,267.86 586.67,267.82 587.89,267.82 587.89,265.29 589.10,265.29 589.10,267.96 590.31,267.96 590.31,269.77 591.53,269.77 591.53,268.49 592.74,268.49 592.74,268.13 593.95,268.13 593.95,269.39 595.17,269.39 595.17,269.38 596.38,269.38 596.38,270.26 597.59,270.26 597.59,272.51 598.81,272.51 598.81,273.90 600.02,273.90 600.02,275.11 601.23,275.11 601.23,275.15 602.45,275.15 602.45,274.74 603.66,274.74 603.66,274.60 604.87,274.60 604.87,278.14 606.09,278.14 606.09,276.81 607.30,276.81 607.30,278.05 608.51,278.05 608.51,279.33 609.72,279.33 609.72,281.92 610.94,281.92 610.94,283.15 612.15,283.15 612.15,282.43 613.36,282.43 613.36,283.75 614.58,283.75 614.58,285.46 615.79,285.46 615.79,286.42 617.00,286.42 617.00,288.05 618.22,288.05 618.22,286.74 619.43,286.74 619.43,288.03 620.64,288.03 620.64,288.66 621.86,288.66 621.86,289.93 623.07,289.93 623.07,291.59 624.28,291.59 624.28,291.73 625.50,291.73 625.50,293.91 626.71,293.91 626.71,293.91 627.92,293.91 627.92,295.63 629.13,295.63 629.13,296.25 630.35,296.25 630.35,296.32 631.56,296.32 631.56,298.00 632.77,298.00 632.77,298.15 633.99,298.15 633.99,299.54 635.20,299.54 635.20,300.66 636.41,300.66 636.41,301.22 637.63,301.22 637.63,302.11 638.84,302.11 638.84,301.80 640.05,301.80 640.05,301.95 641.27,301.95 641.27,303.32 642.48,303.32 642.48,303.49 643.69,303.49 643.69,303.35 644.91,303.35 644.91,304.64 646.12,304.64 646.12,304.48 647.33,304.48 647.33,305.15 648.55,305.15 648.55,306.07 649.76,306.07 649.76,306.43 650.97,306.43 650.97,307.59 652.18,307.59 652.18,307.57 653.40,307.57 653.40,307.67 654.61,307.67 654.61,308.60 655.82,308.60 655.82,309.14 657.04,309.14 657.04,309.52 658.25,309.52 658.25,309.74 659.46,309.74 659.46,310.02 660.68,310.02 660.68,309.85 661.89,309.85 661.89,310.54 663.10,310.54 663.10,310.83 664.32,310.83 664.32,311.39 665.53,311.39 665.53,311.34 666.74,311.34 666.74,311.02 667.96,311.02 667.96,310.76 669.17,310.76 669.17,311.17 670.38,311.17 670.38,310.85 671.59,310.85 671.59,310.57 672.81,310.57 672.81,310.18 674.02,310.18 674.02,310.72 675.23,310.72 675.23,310.51 676.45,310.51 676.45,310.26 677.66,310.26 677.66,310.56 678.87,310.56 678.87,310.03 680.09,310.03 680.09,309.59 681.30,309.59 681.30,325.80" fill="#d9925a" fill-opacity="0.52"/>
<g><rect x="107.48" y="321.56" width="1" height="4.24" fill="#ffffff" fill-opacity="0.35"/><rect x="108.70" y="320.73" width="1" height="5.07" fill="#ffffff" fill-opacity="0.35"/><rect x="111.12" y="318.93" width="1" height="6.87" fill="#d07a36" fill-opacity="0.5"/><rect x="113.55" y="314.74" width="1" height="11.06" fill="#d07a36" fill-opacity="0.5"/><rect x="114.76" y="312.83" width="1" height="12.97" fill="#d07a36" fill-opacity="0.5"/><rect x="117.19" y="308.49" width="1" height="17.31" fill="#d07a36" fill-opacity="0.5"/><rect x="120.83" y="298.68" width="1" height="27.12" fill="#d07a36" fill-opacity="0.5"/><rect x="122.04" y="295.64" width="1" height="30.16" fill="#d07a36" fill-opacity="0.5"/><rect x="125.68" y="284.82" width="1" height="40.98" fill="#ffffff" fill-opacity="0.35"/><rect x="139.03" y="258.71" width="1" height="67.09" fill="#d07a36" fill-opacity="0.5"/><rect x="145.09" y="265.05" width="1" height="60.75" fill="#d07a36" fill-opacity="0.5"/><rect x="151.16" y="264.84" width="1" height="60.96" fill="#d07a36" fill-opacity="0.5"/><rect x="156.01" y="272.61" width="1" height="53.19" fill="#d07a36" fill-opacity="0.5"/><rect x="158.44" y="278.76" width="1" height="47.04" fill="#ffffff" fill-opacity="0.35"/><rect x="160.86" y="281.49" width="1" height="44.31" fill="#d07a36" fill-opacity="0.5"/><rect x="162.08" y="283.59" width="1" height="42.21" fill="#d07a36" fill-opacity="0.5"/><rect x="163.29" y="284.41" width="1" height="41.39" fill="#ffffff" fill-opacity="0.35"/><rect x="166.93" y="288.22" width="1" height="37.58" fill="#d07a36" fill-opacity="0.5"/><rect x="169.35" y="293.03" width="1" height="32.77" fill="#d07a36" fill-opacity="0.5"/><rect x="171.78" y="295.42" width="1" height="30.38" fill="#ffffff" fill-opacity="0.35"/><rect x="172.99" y="296.03" width="1" height="29.77" fill="#d07a36" fill-opacity="0.5"/><rect x="176.63" y="299.48" width="1" height="26.32" fill="#ffffff" fill-opacity="0.35"/><rect x="179.06" y="300.58" width="1" height="25.22" fill="#ffffff" fill-opacity="0.35"/><rect x="181.49" y="302.68" width="1" height="23.12" fill="#ffffff" fill-opacity="0.35"/><rect x="183.91" y="303.98" width="1" height="21.82" fill="#d07a36" fill-opacity="0.5"/><rect x="186.34" y="305.60" width="1" height="20.20" fill="#d07a36" fill-opacity="0.5"/><rect x="187.55" y="306.18" width="1" height="19.62" fill="#d07a36" fill-opacity="0.5"/><rect x="188.76" y="306.33" width="1" height="19.47" fill="#d07a36" fill-opacity="0.5"/><rect x="191.19" y="307.98" width="1" height="17.82" fill="#ffffff" fill-opacity="0.35"/><rect x="192.40" y="309.42" width="1" height="16.38" fill="#ffffff" fill-opacity="0.35"/><rect x="194.83" y="312.02" width="1" height="13.78" fill="#d07a36" fill-opacity="0.5"/><rect x="198.47" y="316.53" width="1" height="9.27" fill="#d07a36" fill-opacity="0.5"/><rect x="202.11" y="313.77" width="1" height="12.03" fill="#ffffff" fill-opacity="0.35"/><rect x="205.75" y="315.17" width="1" height="10.63" fill="#ffffff" fill-opacity="0.35"/><rect x="206.96" y="315.60" width="1" height="10.20" fill="#d07a36" fill-opacity="0.5"/><rect x="217.88" y="318.20" width="1" height="7.60" fill="#d07a36" fill-opacity="0.5"/><rect x="223.95" y="316.10" width="1" height="9.70" fill="#d07a36" fill-opacity="0.5"/><rect x="232.44" y="320.13" width="1" height="5.67" fill="#ffffff" fill-opacity="0.35"/><rect x="234.86" y="320.36" width="1" height="5.44" fill="#d07a36" fill-opacity="0.5"/><rect x="236.08" y="320.57" width="1" height="5.23" fill="#ffffff" fill-opacity="0.35"/><rect x="248.21" y="321.21" width="1" height="4.59" fill="#ffffff" fill-opacity="0.35"/><rect x="249.42" y="321.26" width="1" height="4.54" fill="#d07a36" fill-opacity="0.5"/><rect x="250.63" y="321.15" width="1" height="4.65" fill="#d07a36" fill-opacity="0.5"/><rect x="251.85" y="321.22" width="1" height="4.58" fill="#d07a36" fill-opacity="0.5"/><rect x="255.49" y="321.42" width="1" height="4.38" fill="#d07a36" fill-opacity="0.5"/><rect x="260.34" y="321.79" width="1" height="4.01" fill="#d07a36" fill-opacity="0.5"/><rect x="262.77" y="321.63" width="1" height="4.17" fill="#d07a36" fill-opacity="0.5"/><rect x="263.98" y="321.58" width="1" height="4.22" fill="#ffffff" fill-opacity="0.35"/><rect x="270.04" y="321.46" width="1" height="4.34" fill="#d07a36" fill-opacity="0.5"/><rect x="279.75" y="321.00" width="1" height="4.80" fill="#d07a36" fill-opacity="0.5"/><rect x="287.03" y="320.91" width="1" height="4.89" fill="#d07a36" fill-opacity="0.5"/><rect x="289.46" y="320.56" width="1" height="5.24" fill="#ffffff" fill-opacity="0.35"/><rect x="291.88" y="320.72" width="1" height="5.08" fill="#d07a36" fill-opacity="0.5"/><rect x="295.52" y="320.56" width="1" height="5.24" fill="#d07a36" fill-opacity="0.5"/><rect x="297.95" y="320.41" width="1" height="5.39" fill="#d07a36" fill-opacity="0.5"/><rect x="305.23" y="320.23" width="1" height="5.57" fill="#ffffff" fill-opacity="0.35"/><rect x="307.65" y="319.98" width="1" height="5.82" fill="#d07a36" fill-opacity="0.5"/><rect x="310.08" y="319.95" width="1" height="5.85" fill="#ffffff" fill-opacity="0.35"/><rect x="311.29" y="319.86" width="1" height="5.94" fill="#d07a36" fill-opacity="0.5"/><rect x="313.72" y="319.66" width="1" height="6.14" fill="#ffffff" fill-opacity="0.35"/><rect x="321.00" y="319.27" width="1" height="6.53" fill="#ffffff" fill-opacity="0.35"/><rect x="324.64" y="318.62" width="1" height="7.18" fill="#d07a36" fill-opacity="0.5"/><rect x="327.06" y="318.75" width="1" height="7.05" fill="#d07a36" fill-opacity="0.5"/><rect x="330.70" y="318.12" width="1" height="7.68" fill="#ffffff" fill-opacity="0.35"/><rect x="335.55" y="317.97" width="1" height="7.83" fill="#d07a36" fill-opacity="0.5"/><rect x="339.19" y="317.66" width="1" height="8.14" fill="#d07a36" fill-opacity="0.5"/><rect x="346.47" y="316.88" width="1" height="8.92" fill="#d07a36" fill-opacity="0.5"/><rect x="351.33" y="316.21" width="1" height="9.59" fill="#d07a36" fill-opacity="0.5"/><rect x="357.39" y="314.64" width="1" height="11.16" fill="#d07a36" fill-opacity="0.5"/><rect x="358.60" y="314.15" width="1" height="11.65" fill="#d07a36" fill-opacity="0.5"/><rect x="364.67" y="312.31" width="1" height="13.49" fill="#d07a36" fill-opacity="0.5"/><rect x="369.52" y="308.62" width="1" height="17.18" fill="#d07a36" fill-opacity="0.5"/><rect x="371.95" y="306.82" width="1" height="18.98" fill="#d07a36" fill-opacity="0.5"/><rect x="374.38" y="303.45" width="1" height="22.35" fill="#ffffff" fill-opacity="0.35"/><rect x="379.23" y="296.90" width="1" height="28.90" fill="#ffffff" fill-opacity="0.35"/><rect x="381.65" y="292.12" width="1" height="33.68" fill="#ffffff" fill-opacity="0.35"/><rect x="396.21" y="269.45" width="1" height="56.35" fill="#ffffff" fill-opacity="0.35"/><rect x="398.64" y="267.50" width="1" height="58.30" fill="#ffffff" fill-opacity="0.35"/><rect x="404.70" y="258.89" width="1" height="66.91" fill="#ffffff" fill-opacity="0.35"/><rect x="405.92" y="260.39" width="1" height="65.41" fill="#d07a36" fill-opacity="0.5"/><rect x="407.13" y="259.35" width="1" height="66.45" fill="#ffffff" fill-opacity="0.35"/><rect x="409.56" y="254.06" width="1" height="71.74" fill="#d07a36" fill-opacity="0.5"/><rect x="410.77" y="255.32" width="1" height="70.48" fill="#d07a36" fill-opacity="0.5"/><rect x="414.41" y="250.45" width="1" height="75.35" fill="#d07a36" fill-opacity="0.5"/><rect x="419.26" y="250.48" width="1" height="75.32" fill="#d07a36" fill-opacity="0.5"/><rect x="421.69" y="247.24" width="1" height="78.56" fill="#d07a36" fill-opacity="0.5"/><rect x="425.33" y="248.65" width="1" height="77.15" fill="#d07a36" fill-opacity="0.5"/><rect x="430.18" y="245.08" width="1" height="80.72" fill="#d07a36" fill-opacity="0.5"/><rect x="431.39" y="246.22" width="1" height="79.58" fill="#d07a36" fill-opacity="0.5"/><rect x="433.82" y="249.26" width="1" height="76.54" fill="#d07a36" fill-opacity="0.5"/><rect x="439.88" y="247.06" width="1" height="78.74" fill="#ffffff" fill-opacity="0.35"/><rect x="443.52" y="247.75" width="1" height="78.05" fill="#d07a36" fill-opacity="0.5"/><rect x="447.16" y="246.00" width="1" height="79.80" fill="#ffffff" fill-opacity="0.35"/><rect x="464.15" y="252.36" width="1" height="73.44" fill="#d07a36" fill-opacity="0.5"/><rect x="469.00" y="251.25" width="1" height="74.55" fill="#d07a36" fill-opacity="0.5"/><rect x="470.21" y="249.75" width="1" height="76.05" fill="#ffffff" fill-opacity="0.35"/><rect x="473.85" y="241.54" width="1" height="84.26" fill="#ffffff" fill-opacity="0.35"/><rect x="477.49" y="243.35" width="1" height="82.45" fill="#d07a36" fill-opacity="0.5"/><rect x="481.13" y="239.20" width="1" height="86.60" fill="#d07a36" fill-opacity="0.5"/><rect x="482.34" y="238.87" width="1" height="86.93" fill="#ffffff" fill-opacity="0.35"/><rect x="484.77" y="238.46" width="1" height="87.34" fill="#d07a36" fill-opacity="0.5"/><rect x="498.12" y="241.61" width="1" height="84.19" fill="#ffffff" fill-opacity="0.35"/><rect x="499.33" y="241.14" width="1" height="84.66" fill="#d07a36" fill-opacity="0.5"/><rect x="500.54" y="238.48" width="1" height="87.32" fill="#d07a36" fill-opacity="0.5"/><rect x="501.76" y="242.51" width="1" height="83.29" fill="#d07a36" fill-opacity="0.5"/><rect x="502.97" y="241.57" width="1" height="84.23" fill="#d07a36" fill-opacity="0.5"/><rect x="511.46" y="254.02" width="1" height="71.78" fill="#d07a36" fill-opacity="0.5"/><rect x="512.67" y="257.42" width="1" height="68.38" fill="#ffffff" fill-opacity="0.35"/><rect x="516.31" y="261.22" width="1" height="64.58" fill="#ffffff" fill-opacity="0.35"/><rect x="518.74" y="264.67" width="1" height="61.13" fill="#ffffff" fill-opacity="0.35"/><rect x="519.95" y="265.21" width="1" height="60.59" fill="#ffffff" fill-opacity="0.35"/><rect x="526.02" y="269.93" width="1" height="55.87" fill="#d07a36" fill-opacity="0.5"/><rect x="527.23" y="270.50" width="1" height="55.30" fill="#ffffff" fill-opacity="0.35"/><rect x="530.87" y="273.22" width="1" height="52.58" fill="#d07a36" fill-opacity="0.5"/><rect x="534.51" y="276.51" width="1" height="49.29" fill="#d07a36" fill-opacity="0.5"/><rect x="547.85" y="276.58" width="1" height="49.22" fill="#ffffff" fill-opacity="0.35"/><rect x="550.28" y="275.44" width="1" height="50.36" fill="#d07a36" fill-opacity="0.5"/><rect x="553.92" y="274.94" width="1" height="50.86" fill="#ffffff" fill-opacity="0.35"/><rect x="566.05" y="269.78" width="1" height="56.02" fill="#d07a36" fill-opacity="0.5"/><rect x="568.48" y="270.31" width="1" height="55.49" fill="#d07a36" fill-opacity="0.5"/><rect x="574.54" y="269.52" width="1" height="56.28" fill="#d07a36" fill-opacity="0.5"/><rect x="583.04" y="268.01" width="1" height="57.79" fill="#d07a36" fill-opacity="0.5"/><rect x="586.67" y="267.82" width="1" height="57.98" fill="#ffffff" fill-opacity="0.35"/><rect x="591.53" y="268.49" width="1" height="57.31" fill="#d07a36" fill-opacity="0.5"/><rect x="596.38" y="270.26" width="1" height="55.54" fill="#ffffff" fill-opacity="0.35"/><rect x="597.59" y="272.51" width="1" height="53.29" fill="#d07a36" fill-opacity="0.5"/><rect x="598.81" y="273.90" width="1" height="51.90" fill="#d07a36" fill-opacity="0.5"/><rect x="601.23" y="275.15" width="1" height="50.65" fill="#d07a36" fill-opacity="0.5"/><rect x="602.45" y="274.74" width="1" height="51.06" fill="#ffffff" fill-opacity="0.35"/><rect x="604.87" y="278.14" width="1" height="47.66" fill="#ffffff" fill-opacity="0.35"/><rect x="610.94" y="283.15" width="1" height="42.65" fill="#ffffff" fill-opacity="0.35"/><rect x="613.36" y="283.75" width="1" height="42.05" fill="#d07a36" fill-opacity="0.5"/><rect x="623.07" y="291.59" width="1" height="34.21" fill="#d07a36" fill-opacity="0.5"/><rect x="626.71" y="293.91" width="1" height="31.89" fill="#ffffff" fill-opacity="0.35"/><rect x="636.41" y="301.22" width="1" height="24.58" fill="#d07a36" fill-opacity="0.5"/><rect x="641.27" y="303.32" width="1" height="22.48" fill="#ffffff" fill-opacity="0.35"/><rect x="644.91" y="304.64" width="1" height="21.16" fill="#d07a36" fill-opacity="0.5"/><rect x="648.55" y="306.07" width="1" height="19.73" fill="#ffffff" fill-opacity="0.35"/><rect x="649.76" y="306.43" width="1" height="19.37" fill="#ffffff" fill-opacity="0.35"/><rect x="650.97" y="307.59" width="1" height="18.21" fill="#d07a36" fill-opacity="0.5"/><rect x="657.04" y="309.52" width="1" height="16.28" fill="#ffffff" fill-opacity="0.35"/><rect x="658.25" y="309.74" width="1" height="16.06" fill="#ffffff" fill-opacity="0.35"/><rect x="660.68" y="309.85" width="1" height="15.95" fill="#d07a36" fill-opacity="0.5"/><rect x="661.89" y="310.54" width="1" height="15.26" fill="#d07a36" fill-opacity="0.5"/><rect x="666.74" y="311.02" width="1" height="14.78" fill="#ffffff" fill-opacity="0.35"/><rect x="667.96" y="310.76" width="1" height="15.04" fill="#ffffff" fill-opacity="0.35"/><rect x="671.59" y="310.57" width="1" height="15.23" fill="#d07a36" fill-opacity="0.5"/><rect x="674.02" y="310.72" width="1" height="15.08" fill="#d07a36" fill-opacity="0.5"/><rect x="675.23" y="310.51" width="1" height="15.29" fill="#d07a36" fill-opacity="0.5"/><rect x="677.66" y="310.56" width="1" height="15.24" fill="#d07a36" fill-opacity="0.5"/><rect x="678.87" y="310.03" width="1" height="15.77" fill="#ffffff" fill-opacity="0.35"/><rect x="680.09" y="309.59" width="1" height="16.21" fill="#d07a36" fill-opacity="0.5"/></g>
<g><rect x="131.75" y="323.24" width="1" height="2.56" fill="#8fb884" fill-opacity="0.6"/><rect x="134.17" y="322.29" width="1" height="3.51" fill="#8fb884" fill-opacity="0.6"/><rect x="139.03" y="321.50" width="1" height="4.30" fill="#8fb884" fill-opacity="0.6"/><rect x="140.24" y="321.72" width="1" height="4.08" fill="#8fb884" fill-opacity="0.6"/><rect x="151.16" y="317.75" width="1" height="8.05" fill="#8fb884" fill-opacity="0.6"/><rect x="158.44" y="319.18" width="1" height="6.62" fill="#8fb884" fill-opacity="0.6"/><rect x="162.08" y="318.06" width="1" height="7.74" fill="#8fb884" fill-opacity="0.6"/><rect x="256.70" y="322.89" width="1" height="2.91" fill="#8fb884" fill-opacity="0.6"/><rect x="260.34" y="321.79" width="1" height="4.01" fill="#8fb884" fill-opacity="0.6"/><rect x="263.98" y="321.58" width="1" height="4.22" fill="#8fb884" fill-opacity="0.6"/><rect x="301.59" y="321.86" width="1" height="3.94" fill="#8fb884" fill-opacity="0.6"/><rect x="313.72" y="321.17" width="1" height="4.63" fill="#8fb884" fill-opacity="0.6"/><rect x="317.36" y="320.97" width="1" height="4.83" fill="#8fb884" fill-opacity="0.6"/><rect x="327.06" y="318.75" width="1" height="7.05" fill="#8fb884" fill-opacity="0.6"/><rect x="328.28" y="318.41" width="1" height="7.39" fill="#8fb884" fill-opacity="0.6"/><rect x="335.55" y="317.97" width="1" height="7.83" fill="#8fb884" fill-opacity="0.6"/><rect x="341.62" y="317.16" width="1" height="8.64" fill="#8fb884" fill-opacity="0.6"/><rect x="342.83" y="316.94" width="1" height="8.86" fill="#8fb884" fill-opacity="0.6"/><rect x="344.05" y="317.01" width="1" height="8.79" fill="#8fb884" fill-opacity="0.6"/><rect x="378.01" y="300.04" width="1" height="25.76" fill="#8fb884" fill-opacity="0.6"/><rect x="387.72" y="282.27" width="1" height="43.53" fill="#8fb884" fill-opacity="0.6"/><rect x="401.06" y="265.05" width="1" height="60.75" fill="#8fb884" fill-opacity="0.6"/><rect x="404.70" y="258.89" width="1" height="66.91" fill="#8fb884" fill-opacity="0.6"/><rect x="411.98" y="253.86" width="1" height="71.94" fill="#8fb884" fill-opacity="0.6"/><rect x="415.62" y="250.96" width="1" height="74.84" fill="#8fb884" fill-opacity="0.6"/><rect x="419.26" y="250.48" width="1" height="75.32" fill="#8fb884" fill-opacity="0.6"/><rect x="420.47" y="245.55" width="1" height="80.25" fill="#8fb884" fill-opacity="0.6"/><rect x="426.54" y="246.77" width="1" height="79.03" fill="#8fb884" fill-opacity="0.6"/><rect x="430.18" y="245.08" width="1" height="80.72" fill="#8fb884" fill-opacity="0.6"/><rect x="432.61" y="248.98" width="1" height="76.82" fill="#8fb884" fill-opacity="0.6"/><rect x="435.03" y="249.93" width="1" height="75.87" fill="#8fb884" fill-opacity="0.6"/><rect x="442.31" y="249.29" width="1" height="76.51" fill="#8fb884" fill-opacity="0.6"/><rect x="456.87" y="256.62" width="1" height="69.18" fill="#8fb884" fill-opacity="0.6"/><rect x="461.72" y="254.95" width="1" height="70.85" fill="#8fb884" fill-opacity="0.6"/><rect x="466.57" y="251.93" width="1" height="73.87" fill="#8fb884" fill-opacity="0.6"/><rect x="467.79" y="252.96" width="1" height="72.84" fill="#8fb884" fill-opacity="0.6"/><rect x="469.00" y="251.25" width="1" height="74.55" fill="#8fb884" fill-opacity="0.6"/><rect x="471.43" y="246.47" width="1" height="79.33" fill="#8fb884" fill-opacity="0.6"/><rect x="473.85" y="241.54" width="1" height="84.26" fill="#8fb884" fill-opacity="0.6"/><rect x="477.49" y="243.35" width="1" height="82.45" fill="#8fb884" fill-opacity="0.6"/><rect x="490.84" y="241.57" width="1" height="84.23" fill="#8fb884" fill-opacity="0.6"/><rect x="492.05" y="240.41" width="1" height="85.39" fill="#8fb884" fill-opacity="0.6"/><rect x="496.90" y="245.97" width="1" height="79.83" fill="#8fb884" fill-opacity="0.6"/><rect x="499.33" y="244.39" width="1" height="81.41" fill="#8fb884" fill-opacity="0.6"/><rect x="510.25" y="256.21" width="1" height="69.59" fill="#8fb884" fill-opacity="0.6"/><rect x="516.31" y="261.22" width="1" height="64.58" fill="#8fb884" fill-opacity="0.6"/><rect x="524.80" y="281.15" width="1" height="44.65" fill="#8fb884" fill-opacity="0.6"/><rect x="526.02" y="282.49" width="1" height="43.31" fill="#8fb884" fill-opacity="0.6"/><rect x="532.08" y="289.10" width="1" height="36.70" fill="#8fb884" fill-opacity="0.6"/><rect x="533.30" y="291.56" width="1" height="34.24" fill="#8fb884" fill-opacity="0.6"/><rect x="534.51" y="292.03" width="1" height="33.77" fill="#8fb884" fill-opacity="0.6"/><rect x="540.58" y="294.21" width="1" height="31.59" fill="#8fb884" fill-opacity="0.6"/><rect x="541.79" y="296.29" width="1" height="29.51" fill="#8fb884" fill-opacity="0.6"/><rect x="563.63" y="275.87" width="1" height="49.93" fill="#8fb884" fill-opacity="0.6"/><rect x="570.90" y="270.47" width="1" height="55.33" fill="#8fb884" fill-opacity="0.6"/><rect x="572.12" y="271.23" width="1" height="54.57" fill="#8fb884" fill-opacity="0.6"/><rect x="576.97" y="269.16" width="1" height="56.64" fill="#8fb884" fill-opacity="0.6"/><rect x="578.18" y="269.66" width="1" height="56.14" fill="#8fb884" fill-opacity="0.6"/><rect x="579.40" y="267.86" width="1" height="57.94" fill="#8fb884" fill-opacity="0.6"/><rect x="590.31" y="269.77" width="1" height="56.03" fill="#8fb884" fill-opacity="0.6"/><rect x="592.74" y="268.13" width="1" height="57.67" fill="#8fb884" fill-opacity="0.6"/><rect x="603.66" y="274.60" width="1" height="51.20" fill="#8fb884" fill-opacity="0.6"/><rect x="614.58" y="285.46" width="1" height="40.34" fill="#8fb884" fill-opacity="0.6"/><rect x="635.20" y="300.66" width="1" height="25.14" fill="#8fb884" fill-opacity="0.6"/><rect x="638.84" y="301.80" width="1" height="24.00" fill="#8fb884" fill-opacity="0.6"/><rect x="647.33" y="305.15" width="1" height="20.65" fill="#8fb884" fill-opacity="0.6"/><rect x="664.32" y="311.39" width="1" height="14.41" fill="#8fb884" fill-opacity="0.6"/><rect x="672.81" y="314.33" width="1" height="11.47" fill="#8fb884" fill-opacity="0.6"/><rect x="677.66" y="318.01" width="1" height="7.79" fill="#8fb884" fill-opacity="0.6"/><rect x="680.09" y="319.69" width="1" height="6.11" fill="#8fb884" fill-opacity="0.6"/></g>
<rect x="90.5" y="21.3" width="590.80" height="304.50" fill="none" stroke="#3a3836" stroke-width="1.4"/>
<polyline points="90.00,283.75 101.25,283.75 103.75,262.00 106.25,235.00 110.00,200.00 113.00,190.00 114.50,150.00 115.00,100.00 115.80,86.00 117.50,32.50 158.80,32.50 160.00,52.00 176.30,52.00 177.50,111.25 193.75,111.25 195.00,162.50 197.50,171.25 215.50,171.25 215.50,159.50 248.75,159.50 249.50,177.50 256.25,177.50 257.50,185.00 262.50,185.00 263.00,219.00 321.25,219.00 321.25,239.25 381.25,239.25 381.25,230.00 412.50,230.00 413.75,208.00 421.25,208.00 422.50,182.50 425.00,166.25 440.00,166.25 440.00,153.75 450.00,153.75 451.25,119.50 471.25,119.50 472.00,153.75 498.75,153.75 500.00,166.25 533.75,166.25 535.00,176.25 538.75,176.25 540.00,194.50 577.50,194.50 577.50,165.50 602.50,165.50 603.75,176.75 630.00,176.75 631.25,185.00 652.50,185.00 653.75,208.75 666.25,208.75 666.25,200.00 681.30,200.00" fill="none" stroke="#8a6aaa" stroke-width="3.6" stroke-linejoin="round"/>
<polyline points="90.00,276.35 92.19,274.64 94.38,272.30 96.56,271.02 98.75,268.70 99.17,265.24 99.58,262.50 100.00,259.82 100.42,257.63 100.83,255.98 101.25,252.19 101.45,250.57 101.64,247.76 101.84,245.37 102.04,242.78 102.24,239.46 102.43,238.17 102.63,234.85 102.83,233.28 103.03,229.13 103.22,226.81 103.42,224.34 103.62,222.91 103.82,219.29 104.01,217.38 104.21,215.02 104.41,212.53 104.61,209.63 104.80,208.19 105.00,204.91 105.18,201.92 105.36,200.10 105.54,196.80 105.71,195.30 105.89,191.91 106.07,190.70 106.25,186.74 106.43,184.66 106.61,181.99 106.79,180.13 106.96,177.33 107.14,174.91 107.32,172.41 107.50,170.20 107.68,167.07 107.86,164.68 108.04,162.06 108.21,159.36 108.39,157.72 108.57,155.78 108.75,153.24 109.06,150.84 109.38,146.80 109.69,145.39 110.00,141.73 110.31,140.57 110.62,138.12 110.94,134.96 111.25,133.38 111.72,130.00 112.19,127.70 112.66,124.90 113.12,123.32 113.59,120.43 114.06,117.88 114.53,115.30 115.00,113.46 115.66,109.43 116.32,107.64 116.98,103.83 117.64,101.29 118.30,98.16 119.53,96.70 120.77,95.13 122.00,91.48 124.35,89.05 126.70,87.55 129.47,85.80 132.23,85.56 135.00,84.90 137.23,82.84 139.47,82.90 141.70,80.59 145.00,82.21 148.30,82.60 150.64,84.98 152.98,84.41 155.32,85.76 157.66,85.92 160.00,86.88 162.50,87.59 165.00,88.79 166.50,91.26 168.00,94.94 169.92,97.20 171.83,98.61 173.75,101.73 175.00,103.40 176.25,107.22 177.50,110.56 179.00,112.21 180.50,113.11 182.00,115.23 183.50,117.18 185.00,119.33 186.88,121.92 188.75,124.58 190.62,125.39 192.50,128.02 195.00,128.75 197.50,131.68 200.00,132.29 200.75,134.70 201.50,137.44 202.25,140.06 203.00,142.75 203.75,147.02 205.31,149.15 206.88,150.61 208.44,153.93 210.00,156.19 211.88,157.35 213.75,160.88 215.62,161.40 217.50,163.88 219.50,165.25 221.50,167.23 223.50,169.88 225.50,171.23 227.50,172.03 229.50,174.62 231.50,175.94 233.50,177.28 235.50,179.60 237.50,180.77 240.00,182.09 242.50,181.44 245.00,181.36 247.50,183.01 250.00,182.04 252.50,183.29 255.00,183.86 257.50,183.88 260.00,184.56 262.50,182.71 265.00,182.27 267.50,182.12 270.00,180.56 272.50,181.50 275.00,180.29 277.50,180.05 280.00,179.60 282.50,179.18 285.00,178.34 287.50,177.90 290.00,177.89 292.50,177.21 295.00,178.00 297.50,176.93 300.00,178.47 302.50,177.21 305.00,177.80 307.50,178.98 310.00,178.76 312.50,178.60 315.00,180.60 317.50,181.45 320.00,182.44 322.50,185.36 325.00,185.80 327.50,186.18 330.00,185.98 332.50,187.01 335.00,186.88 337.50,187.42 340.00,189.68 342.50,189.35 345.00,188.69 347.50,189.42 350.00,188.65 352.50,188.59 355.00,187.29 357.50,187.07 360.00,186.17 362.50,185.13 365.00,184.09 367.50,184.51 370.00,183.44 371.07,180.72 372.14,177.81 373.21,176.06 374.29,173.27 375.36,170.14 376.43,168.86 377.50,166.55 379.00,164.83 380.50,162.34 382.00,158.74 383.50,156.92 385.00,154.18 387.08,152.76 389.17,152.02 391.25,150.10 393.33,148.38 395.42,147.94 397.50,147.01 400.00,145.27 402.50,142.32 405.00,141.20 407.50,139.17 410.00,139.36 412.50,139.78 415.00,137.95 417.50,138.42 420.00,137.49 422.50,137.04 425.00,137.68 427.50,136.83 430.00,136.94 432.50,137.76 435.00,136.77 437.50,136.79 440.00,136.09 442.50,134.81 445.00,133.39 447.50,132.31 450.00,132.43 452.50,130.59 455.00,129.41 457.50,129.27 460.00,128.12 462.50,126.61 465.00,125.84 467.50,124.53 470.00,125.32 472.50,126.18 475.00,126.69 477.50,125.50 480.00,126.69 482.50,125.54 485.00,125.69 487.50,126.14 490.00,125.99 492.50,125.35 495.00,126.36 497.50,128.28 500.00,128.22 502.50,128.89 505.00,129.16 507.50,130.36 510.00,130.89 512.50,131.50 515.00,132.61 517.50,132.81 520.00,132.46 522.50,132.17 525.00,131.55 527.50,131.43 530.00,131.92 532.50,131.65 535.00,131.25 537.50,129.70 540.00,130.06 542.50,129.95 545.00,128.80 547.50,128.71 550.00,129.14 552.50,128.62 555.00,128.41 557.50,126.99 560.00,126.70 562.50,127.59 565.00,127.13 567.68,126.30 570.36,125.89 573.04,126.20 575.71,126.79 578.39,126.22 581.07,126.63 583.75,125.63 585.31,128.39 586.88,129.30 588.44,132.59 590.00,133.31 591.67,134.94 593.33,138.46 595.00,139.68 597.50,141.21 600.00,142.11 602.50,143.59 605.00,145.32 607.50,145.94 610.00,147.13 612.50,147.52 615.00,148.64 616.88,149.78 618.75,152.51 620.62,154.56 622.50,156.97 624.69,158.04 626.88,158.30 629.06,160.23 631.25,162.34 633.44,163.67 635.62,163.88 637.81,165.24 640.00,167.49 642.50,168.03 645.00,168.10 647.50,168.95 650.00,169.73 651.88,172.08 653.75,172.69 655.62,175.24 657.50,176.86 660.00,175.79 662.50,176.89 665.00,175.50 667.50,176.04 670.00,175.53 672.50,175.93 675.00,175.86 677.50,178.39 680.00,180.18 682.50,180.95" fill="none" stroke="#d63c3c" stroke-width="4.4" stroke-linejoin="round" stroke-linecap="round"/>
<text x="48.38" y="31.30" font-size="23.5" fill="#231f20" stroke="#231f20" stroke-width="0.15" textLength="34.51" lengthAdjust="spacingAndGlyphs">100</text>
<text x="60.70" y="91.44" font-size="23.5" fill="#231f20" stroke="#231f20" stroke-width="0.15" textLength="23.00" lengthAdjust="spacingAndGlyphs">80</text>
<text x="60.70" y="151.58" font-size="23.5" fill="#231f20" stroke="#231f20" stroke-width="0.15" textLength="23.00" lengthAdjust="spacingAndGlyphs">60</text>
<text x="60.70" y="211.72" font-size="23.5" fill="#231f20" stroke="#231f20" stroke-width="0.15" textLength="23.00" lengthAdjust="spacingAndGlyphs">40</text>
<text x="60.70" y="271.86" font-size="23.5" fill="#231f20" stroke="#231f20" stroke-width="0.15" textLength="23.00" lengthAdjust="spacingAndGlyphs">20</text>
<text x="72.14" y="332.00" font-size="23.5" fill="#231f20" stroke="#231f20" stroke-width="0.15" textLength="11.51" lengthAdjust="spacingAndGlyphs">0</text>
<text x="697.10" y="31.30" font-size="23.5" fill="#231f20" stroke="#231f20" stroke-width="0.15" textLength="23.00" lengthAdjust="spacingAndGlyphs">25</text>
<text x="697.10" y="91.58" font-size="23.5" fill="#231f20" stroke="#231f20" stroke-width="0.15" textLength="23.00" lengthAdjust="spacingAndGlyphs">20</text>
<text x="697.10" y="151.86" font-size="23.5" fill="#231f20" stroke="#231f20" stroke-width="0.15" textLength="23.00" lengthAdjust="spacingAndGlyphs">15</text>
<text x="697.10" y="212.14" font-size="23.5" fill="#231f20" stroke="#231f20" stroke-width="0.15" textLength="23.00" lengthAdjust="spacingAndGlyphs">10</text>
<text x="708.54" y="272.42" font-size="23.5" fill="#231f20" stroke="#231f20" stroke-width="0.15" textLength="11.51" lengthAdjust="spacingAndGlyphs">5</text>
<text x="708.54" y="332.70" font-size="23.5" fill="#231f20" stroke="#231f20" stroke-width="0.15" textLength="11.51" lengthAdjust="spacingAndGlyphs">0</text>
<text x="22.12" y="190.20" font-size="23.5" fill="#231f20" stroke="#231f20" stroke-width="0.15" textLength="18.38" lengthAdjust="spacingAndGlyphs">%</text>
<text transform="translate(100.30,403.73) rotate(-90)" x="0" y="0" font-size="24" fill="#231f20" stroke="#231f20" stroke-width="0.15" textLength="64.23" lengthAdjust="spacingAndGlyphs">3/2020</text>
<text transform="translate(137.91,403.73) rotate(-90)" x="0" y="0" font-size="24" fill="#231f20" stroke="#231f20" stroke-width="0.15" textLength="64.23" lengthAdjust="spacingAndGlyphs">4/2020</text>
<text transform="translate(174.30,403.73) rotate(-90)" x="0" y="0" font-size="24" fill="#231f20" stroke="#231f20" stroke-width="0.15" textLength="64.23" lengthAdjust="spacingAndGlyphs">5/2020</text>
<text transform="translate(211.91,403.73) rotate(-90)" x="0" y="0" font-size="24" fill="#231f20" stroke="#231f20" stroke-width="0.15" textLength="64.23" lengthAdjust="spacingAndGlyphs">6/2020</text>
<text transform="translate(248.30,403.73) rotate(-90)" x="0" y="0" font-size="24" fill="#231f20" stroke="#231f20" stroke-width="0.15" textLength="64.23" lengthAdjust="spacingAndGlyphs">7/2020</text>
<text transform="translate(285.91,403.73) rotate(-90)" x="0" y="0" font-size="24" fill="#231f20" stroke="#231f20" stroke-width="0.15" textLength="64.23" lengthAdjust="spacingAndGlyphs">8/2020</text>
<text transform="translate(323.52,403.73) rotate(-90)" x="0" y="0" font-size="24" fill="#231f20" stroke="#231f20" stroke-width="0.15" textLength="64.23" lengthAdjust="spacingAndGlyphs">9/2020</text>
<text transform="translate(359.91,415.42) rotate(-90)" x="0" y="0" font-size="24" fill="#231f20" stroke="#231f20" stroke-width="0.15" textLength="75.92" lengthAdjust="spacingAndGlyphs">10/2020</text>
<text transform="translate(397.52,413.86) rotate(-90)" x="0" y="0" font-size="24" fill="#231f20" stroke="#231f20" stroke-width="0.15" textLength="74.36" lengthAdjust="spacingAndGlyphs">11/2020</text>
<text transform="translate(433.91,415.42) rotate(-90)" x="0" y="0" font-size="24" fill="#231f20" stroke="#231f20" stroke-width="0.15" textLength="75.92" lengthAdjust="spacingAndGlyphs">12/2020</text>
<text transform="translate(471.52,403.73) rotate(-90)" x="0" y="0" font-size="24" fill="#231f20" stroke="#231f20" stroke-width="0.15" textLength="64.23" lengthAdjust="spacingAndGlyphs">1/2021</text>
<text transform="translate(509.13,403.73) rotate(-90)" x="0" y="0" font-size="24" fill="#231f20" stroke="#231f20" stroke-width="0.15" textLength="64.23" lengthAdjust="spacingAndGlyphs">2/2021</text>
<text transform="translate(543.10,403.73) rotate(-90)" x="0" y="0" font-size="24" fill="#231f20" stroke="#231f20" stroke-width="0.15" textLength="64.23" lengthAdjust="spacingAndGlyphs">3/2021</text>
<text transform="translate(580.70,403.73) rotate(-90)" x="0" y="0" font-size="24" fill="#231f20" stroke="#231f20" stroke-width="0.15" textLength="64.23" lengthAdjust="spacingAndGlyphs">4/2021</text>
<text transform="translate(617.10,403.73) rotate(-90)" x="0" y="0" font-size="24" fill="#231f20" stroke="#231f20" stroke-width="0.15" textLength="64.23" lengthAdjust="spacingAndGlyphs">5/2021</text>
<text transform="translate(654.71,403.73) rotate(-90)" x="0" y="0" font-size="24" fill="#231f20" stroke="#231f20" stroke-width="0.15" textLength="64.23" lengthAdjust="spacingAndGlyphs">6/2021</text>
<rect x="101.7" y="440.8" width="17.5" height="17.2" fill="#6aaa72"/>
<rect x="101.7" y="469.7" width="17.5" height="17.3" fill="#d98a4a"/>
<line x1="92.8" y1="507.2" x2="127.2" y2="507.2" stroke="#8a6aaa" stroke-width="4" stroke-linecap="round"/>
<line x1="92.8" y1="536" x2="127.2" y2="536" stroke="#d63c3c" stroke-width="4" stroke-linecap="round"/>
<text x="144.58" y="458.70" font-size="23.5" fill="#231f20" stroke="#231f20" stroke-width="0.15" textLength="529.67" lengthAdjust="spacingAndGlyphs">New deaths to 1 mil inhabitants (in 7 days) – Croatia – right</text>
<text x="144.58" y="487.50" font-size="23.5" fill="#231f20" stroke="#231f20" stroke-width="0.15" textLength="529.20" lengthAdjust="spacingAndGlyphs">New deaths to 1 mil inhabitants (in 7 days) – Europe – right</text>
<text x="145.46" y="517.20" font-size="23.5" fill="#231f20" stroke="#231f20" stroke-width="0.15" textLength="232.53" lengthAdjust="spacingAndGlyphs">Stringency index – Croatia</text>
<text x="145.46" y="546.00" font-size="23.5" fill="#231f20" stroke="#231f20" stroke-width="0.15" textLength="320.16" lengthAdjust="spacingAndGlyphs">Stringency index – Europe (average)</text>
<line x1="818.3" y1="64.48" x2="1425.8" y2="64.48" stroke="#3a3836" stroke-width="1.05"/>
<line x1="818.3" y1="108.56" x2="1425.8" y2="108.56" stroke="#3a3836" stroke-width="1.05"/>
<line x1="818.3" y1="152.63" x2="1425.8" y2="152.63" stroke="#3a3836" stroke-width="1.05"/>
<line x1="818.3" y1="196.71" x2="1425.8" y2="196.71" stroke="#3a3836" stroke-width="1.05"/>
<line x1="818.3" y1="240.79" x2="1425.8" y2="240.79" stroke="#3a3836" stroke-width="1.05"/>
<line x1="818.3" y1="284.87" x2="1425.8" y2="284.87" stroke="#3a3836" stroke-width="1.05"/>
<line x1="818.3" y1="328.94" x2="1425.8" y2="328.94" stroke="#3a3836" stroke-width="1.05"/>
<line x1="818.3" y1="373.02" x2="1425.8" y2="373.02" stroke="#3a3836" stroke-width="1.05"/>
<line x1="840.80" y1="20.4" x2="840.80" y2="417.1" stroke="#3a3836" stroke-width="1.05"/>
<line x1="863.30" y1="20.4" x2="863.30" y2="417.1" stroke="#3a3836" stroke-width="1.05"/>
<line x1="885.80" y1="20.4" x2="885.80" y2="417.1" stroke="#3a3836" stroke-width="1.05"/>
<line x1="908.30" y1="20.4" x2="908.30" y2="417.1" stroke="#3a3836" stroke-width="1.05"/>
<line x1="930.80" y1="20.4" x2="930.80" y2="417.1" stroke="#3a3836" stroke-width="1.05"/>
<line x1="953.30" y1="20.4" x2="953.30" y2="417.1" stroke="#3a3836" stroke-width="1.05"/>
<line x1="975.80" y1="20.4" x2="975.80" y2="417.1" stroke="#3a3836" stroke-width="1.05"/>
<line x1="998.30" y1="20.4" x2="998.30" y2="417.1" stroke="#3a3836" stroke-width="1.05"/>
<line x1="1020.80" y1="20.4" x2="1020.80" y2="417.1" stroke="#3a3836" stroke-width="1.05"/>
<line x1="1043.30" y1="20.4" x2="1043.30" y2="417.1" stroke="#3a3836" stroke-width="1.05"/>
<line x1="1065.80" y1="20.4" x2="1065.80" y2="417.1" stroke="#3a3836" stroke-width="1.05"/>
<line x1="1088.30" y1="20.4" x2="1088.30" y2="417.1" stroke="#3a3836" stroke-width="1.05"/>
<line x1="1110.80" y1="20.4" x2="1110.80" y2="417.1" stroke="#3a3836" stroke-width="1.05"/>
<line x1="1133.30" y1="20.4" x2="1133.30" y2="417.1" stroke="#3a3836" stroke-width="1.05"/>
<line x1="1155.80" y1="20.4" x2="1155.80" y2="417.1" stroke="#3a3836" stroke-width="1.05"/>
<line x1="1178.30" y1="20.4" x2="1178.30" y2="417.1" stroke="#3a3836" stroke-width="1.05"/>
<line x1="1200.80" y1="20.4" x2="1200.80" y2="417.1" stroke="#3a3836" stroke-width="1.05"/>
<line x1="1223.30" y1="20.4" x2="1223.30" y2="417.1" stroke="#3a3836" stroke-width="1.05"/>
<line x1="1245.80" y1="20.4" x2="1245.80" y2="417.1" stroke="#3a3836" stroke-width="1.05"/>
<line x1="1268.30" y1="20.4" x2="1268.30" y2="417.1" stroke="#3a3836" stroke-width="1.05"/>
<line x1="1290.80" y1="20.4" x2="1290.80" y2="417.1" stroke="#3a3836" stroke-width="1.05"/>
<line x1="1313.30" y1="20.4" x2="1313.30" y2="417.1" stroke="#3a3836" stroke-width="1.05"/>
<line x1="1335.80" y1="20.4" x2="1335.80" y2="417.1" stroke="#3a3836" stroke-width="1.05"/>
<line x1="1358.30" y1="20.4" x2="1358.30" y2="417.1" stroke="#3a3836" stroke-width="1.05"/>
<line x1="1380.80" y1="20.4" x2="1380.80" y2="417.1" stroke="#3a3836" stroke-width="1.05"/>
<line x1="1403.30" y1="20.4" x2="1403.30" y2="417.1" stroke="#3a3836" stroke-width="1.05"/>
<rect x="825.05" y="59.19" width="9.0" height="33.06" fill="#386699"/>
<rect x="825.05" y="92.25" width="9.0" height="324.85" fill="#d4413f"/>
<rect x="847.55" y="188.07" width="9.0" height="57.57" fill="#386699"/>
<rect x="847.55" y="245.64" width="9.0" height="171.46" fill="#d4413f"/>
<rect x="870.05" y="216.77" width="9.0" height="31.52" fill="#386699"/>
<rect x="870.05" y="248.28" width="9.0" height="168.82" fill="#d4413f"/>
<rect x="892.55" y="179.26" width="9.0" height="73.43" fill="#386699"/>
<rect x="892.55" y="252.69" width="9.0" height="164.41" fill="#d4413f"/>
<rect x="915.05" y="176.88" width="9.0" height="78.02" fill="#386699"/>
<rect x="915.05" y="254.89" width="9.0" height="162.21" fill="#d4413f"/>
<rect x="937.55" y="213.02" width="9.0" height="44.52" fill="#386699"/>
<rect x="937.55" y="257.54" width="9.0" height="159.56" fill="#d4413f"/>
<rect x="960.05" y="220.95" width="9.0" height="42.09" fill="#386699"/>
<rect x="960.05" y="263.05" width="9.0" height="154.05" fill="#d4413f"/>
<rect x="982.55" y="159.25" width="9.0" height="103.80" fill="#386699"/>
<rect x="982.55" y="263.05" width="9.0" height="154.05" fill="#d4413f"/>
<rect x="1005.05" y="146.02" width="9.0" height="119.01" fill="#386699"/>
<rect x="1005.05" y="265.03" width="9.0" height="152.07" fill="#d4413f"/>
<rect x="1027.55" y="184.81" width="9.0" height="81.24" fill="#386699"/>
<rect x="1027.55" y="266.05" width="9.0" height="151.05" fill="#d4413f"/>
<rect x="1050.05" y="163.21" width="9.0" height="105.13" fill="#386699"/>
<rect x="1050.05" y="268.34" width="9.0" height="148.76" fill="#d4413f"/>
<rect x="1072.55" y="172.47" width="9.0" height="96.53" fill="#386699"/>
<rect x="1072.55" y="269.00" width="9.0" height="148.10" fill="#d4413f"/>
<rect x="1095.05" y="177.32" width="9.0" height="91.90" fill="#386699"/>
<rect x="1095.05" y="269.22" width="9.0" height="147.88" fill="#d4413f"/>
<rect x="1117.55" y="193.18" width="9.0" height="77.58" fill="#386699"/>
<rect x="1117.55" y="270.76" width="9.0" height="146.34" fill="#d4413f"/>
<rect x="1140.05" y="243.43" width="9.0" height="32.18" fill="#386699"/>
<rect x="1140.05" y="275.61" width="9.0" height="141.49" fill="#d4413f"/>
<rect x="1162.55" y="169.38" width="9.0" height="111.65" fill="#386699"/>
<rect x="1162.55" y="281.03" width="9.0" height="136.07" fill="#d4413f"/>
<rect x="1185.05" y="209.49" width="9.0" height="73.61" fill="#386699"/>
<rect x="1185.05" y="283.10" width="9.0" height="134.00" fill="#d4413f"/>
<rect x="1207.55" y="197.15" width="9.0" height="86.39" fill="#386699"/>
<rect x="1207.55" y="283.54" width="9.0" height="133.56" fill="#d4413f"/>
<rect x="1230.05" y="210.38" width="9.0" height="74.67" fill="#386699"/>
<rect x="1230.05" y="285.04" width="9.0" height="132.06" fill="#d4413f"/>
<rect x="1252.55" y="231.09" width="9.0" height="55.10" fill="#386699"/>
<rect x="1252.55" y="286.19" width="9.0" height="130.91" fill="#d4413f"/>
<rect x="1275.05" y="264.15" width="9.0" height="26.45" fill="#386699"/>
<rect x="1275.05" y="290.60" width="9.0" height="126.50" fill="#d4413f"/>
<rect x="1297.55" y="254.23" width="9.0" height="36.80" fill="#386699"/>
<rect x="1297.55" y="291.04" width="9.0" height="126.06" fill="#d4413f"/>
<rect x="1320.05" y="257.54" width="9.0" height="43.64" fill="#386699"/>
<rect x="1320.05" y="301.18" width="9.0" height="115.92" fill="#d4413f"/>
<rect x="1342.55" y="309.55" width="9.0" height="4.63" fill="#386699"/>
<rect x="1342.55" y="314.18" width="9.0" height="102.92" fill="#d4413f"/>
<rect x="1365.05" y="230.21" width="9.0" height="98.51" fill="#386699"/>
<rect x="1365.05" y="328.72" width="9.0" height="88.38" fill="#d4413f"/>
<rect x="1387.55" y="155.72" width="9.0" height="179.84" fill="#386699"/>
<rect x="1387.55" y="335.56" width="9.0" height="81.54" fill="#d4413f"/>
<rect x="1410.05" y="357.15" width="9.0" height="9.70" fill="#386699"/>
<rect x="1410.05" y="366.85" width="9.0" height="50.25" fill="#d4413f"/>
<polyline points="818.3,20.4 1425.8,20.4 1425.8,417.1 818.3,417.1" fill="none" stroke="#3a3836" stroke-width="1.4"/>
<line x1="818.3" y1="19.7" x2="818.3" y2="417.8" stroke="#6e6c6a" stroke-width="1.5"/>
<text x="783.80" y="33.95" font-size="23.5" fill="#231f20" stroke="#231f20" stroke-width="0.15" textLength="23.00" lengthAdjust="spacingAndGlyphs">90</text>
<text x="783.80" y="77.41" font-size="23.5" fill="#231f20" stroke="#231f20" stroke-width="0.15" textLength="23.00" lengthAdjust="spacingAndGlyphs">80</text>
<text x="783.80" y="120.87" font-size="23.5" fill="#231f20" stroke="#231f20" stroke-width="0.15" textLength="23.00" lengthAdjust="spacingAndGlyphs">70</text>
<text x="783.80" y="164.33" font-size="23.5" fill="#231f20" stroke="#231f20" stroke-width="0.15" textLength="23.00" lengthAdjust="spacingAndGlyphs">60</text>
<text x="783.80" y="207.79" font-size="23.5" fill="#231f20" stroke="#231f20" stroke-width="0.15" textLength="23.00" lengthAdjust="spacingAndGlyphs">50</text>
<text x="783.80" y="251.25" font-size="23.5" fill="#231f20" stroke="#231f20" stroke-width="0.15" textLength="23.00" lengthAdjust="spacingAndGlyphs">40</text>
<text x="783.80" y="294.71" font-size="23.5" fill="#231f20" stroke="#231f20" stroke-width="0.15" textLength="23.00" lengthAdjust="spacingAndGlyphs">30</text>
<text x="783.80" y="338.17" font-size="23.5" fill="#231f20" stroke="#231f20" stroke-width="0.15" textLength="23.00" lengthAdjust="spacingAndGlyphs">20</text>
<text x="783.80" y="381.63" font-size="23.5" fill="#231f20" stroke="#231f20" stroke-width="0.15" textLength="23.00" lengthAdjust="spacingAndGlyphs">10</text>
<text x="795.24" y="425.09" font-size="23.5" fill="#231f20" stroke="#231f20" stroke-width="0.15" textLength="11.51" lengthAdjust="spacingAndGlyphs">0</text>
<text x="751.12" y="212.60" font-size="23.5" fill="#231f20" stroke="#231f20" stroke-width="0.15" textLength="18.38" lengthAdjust="spacingAndGlyphs">%</text>
<text x="817.91" y="447.40" font-size="20.6" fill="#231f20" stroke="#231f20" stroke-width="0.35" textLength="23.58" lengthAdjust="spacingAndGlyphs">MT</text>
<text x="842.57" y="447.40" font-size="20.6" fill="#231f20" stroke="#231f20" stroke-width="0.35" textLength="20.87" lengthAdjust="spacingAndGlyphs">CY</text>
<text x="864.95" y="447.40" font-size="20.6" fill="#231f20" stroke="#231f20" stroke-width="0.35" textLength="19.70" lengthAdjust="spacingAndGlyphs">LT</text>
<text x="887.74" y="447.40" font-size="20.6" fill="#231f20" stroke="#231f20" stroke-width="0.35" textLength="20.12" lengthAdjust="spacingAndGlyphs">ES</text>
<text x="910.27" y="447.40" font-size="20.6" fill="#231f20" stroke="#231f20" stroke-width="0.35" textLength="20.47" lengthAdjust="spacingAndGlyphs">DE</text>
<text x="933.55" y="447.40" font-size="20.6" fill="#231f20" stroke="#231f20" stroke-width="0.35" textLength="18.30" lengthAdjust="spacingAndGlyphs">EL</text>
<text x="955.11" y="447.40" font-size="20.6" fill="#231f20" stroke="#231f20" stroke-width="0.35" textLength="20.05" lengthAdjust="spacingAndGlyphs">PL</text>
<text x="977.13" y="447.40" font-size="20.6" fill="#231f20" stroke="#231f20" stroke-width="0.35" textLength="20.62" lengthAdjust="spacingAndGlyphs">NL</text>
<text x="999.78" y="447.40" font-size="20.6" fill="#231f20" stroke="#231f20" stroke-width="0.35" textLength="20.89" lengthAdjust="spacingAndGlyphs">BE</text>
<text x="1023.30" y="447.40" font-size="20.6" fill="#231f20" stroke="#231f20" stroke-width="0.35" textLength="19.04" lengthAdjust="spacingAndGlyphs">AT</text>
<text x="1044.78" y="447.40" font-size="20.6" fill="#231f20" stroke="#231f20" stroke-width="0.35" textLength="21.79" lengthAdjust="spacingAndGlyphs">DK</text>
<text x="1068.30" y="447.40" font-size="20.6" fill="#231f20" stroke="#231f20" stroke-width="0.35" textLength="17.11" lengthAdjust="spacingAndGlyphs">PT</text>
<text x="1090.30" y="447.40" font-size="20.6" fill="#231f20" stroke="#231f20" stroke-width="0.35" textLength="19.80" lengthAdjust="spacingAndGlyphs">LU</text>
<text x="1113.21" y="447.40" font-size="20.6" fill="#231f20" stroke="#231f20" stroke-width="0.35" textLength="19.91" lengthAdjust="spacingAndGlyphs">EU</text>
<text x="1138.66" y="447.40" font-size="20.6" fill="#231f20" stroke="#231f20" stroke-width="0.35" textLength="14.32" lengthAdjust="spacingAndGlyphs">SI</text>
<text x="1160.76" y="447.40" font-size="20.6" fill="#231f20" stroke="#231f20" stroke-width="0.35" textLength="14.08" lengthAdjust="spacingAndGlyphs">IT</text>
<text x="1181.10" y="447.40" font-size="20.6" fill="#231f20" stroke="#231f20" stroke-width="0.35" textLength="19.11" lengthAdjust="spacingAndGlyphs">CZ</text>
<text x="1203.25" y="447.40" font-size="20.6" fill="#231f20" stroke="#231f20" stroke-width="0.35" textLength="19.90" lengthAdjust="spacingAndGlyphs">FR</text>
<text x="1226.08" y="447.40" font-size="20.6" fill="#231f20" stroke="#231f20" stroke-width="0.35" textLength="19.87" lengthAdjust="spacingAndGlyphs">SE</text>
<text x="1248.28" y="447.40" font-size="20.6" fill="#231f20" stroke="#231f20" stroke-width="0.35" textLength="19.57" lengthAdjust="spacingAndGlyphs">EE</text>
<text x="1270.88" y="447.40" font-size="20.6" fill="#231f20" stroke="#231f20" stroke-width="0.35" textLength="19.15" lengthAdjust="spacingAndGlyphs">LV</text>
<text x="1291.05" y="447.40" font-size="20.6" fill="#231f20" stroke="#231f20" stroke-width="0.35" textLength="20.61" lengthAdjust="spacingAndGlyphs">SK</text>
<text x="1313.60" y="447.40" font-size="20.6" fill="#231f20" stroke="#231f20" stroke-width="0.35" textLength="22.26" lengthAdjust="spacingAndGlyphs">HR</text>
<text x="1337.92" y="447.40" font-size="20.6" fill="#231f20" stroke="#231f20" stroke-width="0.35" textLength="22.08" lengthAdjust="spacingAndGlyphs">RU</text>
<text x="1364.31" y="447.40" font-size="20.6" fill="#231f20" stroke="#231f20" stroke-width="0.35" textLength="13.51" lengthAdjust="spacingAndGlyphs">IE</text>
<text x="1386.58" y="447.40" font-size="20.6" fill="#231f20" stroke="#231f20" stroke-width="0.35" textLength="13.92" lengthAdjust="spacingAndGlyphs">FI</text>
<text x="1405.28" y="447.40" font-size="20.6" fill="#231f20" stroke="#231f20" stroke-width="0.35" textLength="22.67" lengthAdjust="spacingAndGlyphs">BG</text>
<rect x="1313.4" y="250.5" width="23.2" height="200" fill="none" stroke="#4a4846" stroke-width="1"/>
<rect x="896.2" y="489.2" width="17.6" height="17" fill="#d4413f"/>
<rect x="896.2" y="515" width="17.6" height="17" fill="#386699"/>
<text x="923.35" y="504.50" font-size="23.5" fill="#231f20" stroke="#231f20" stroke-width="0.15" textLength="403.74" lengthAdjust="spacingAndGlyphs">Share of population fully vaccinated (2 doses)</text>
<text x="923.35" y="533.00" font-size="23.5" fill="#231f20" stroke="#231f20" stroke-width="0.15" textLength="406.67" lengthAdjust="spacingAndGlyphs">Share of population partly vaccinated (1 dose)</text>
</svg></body></html>
